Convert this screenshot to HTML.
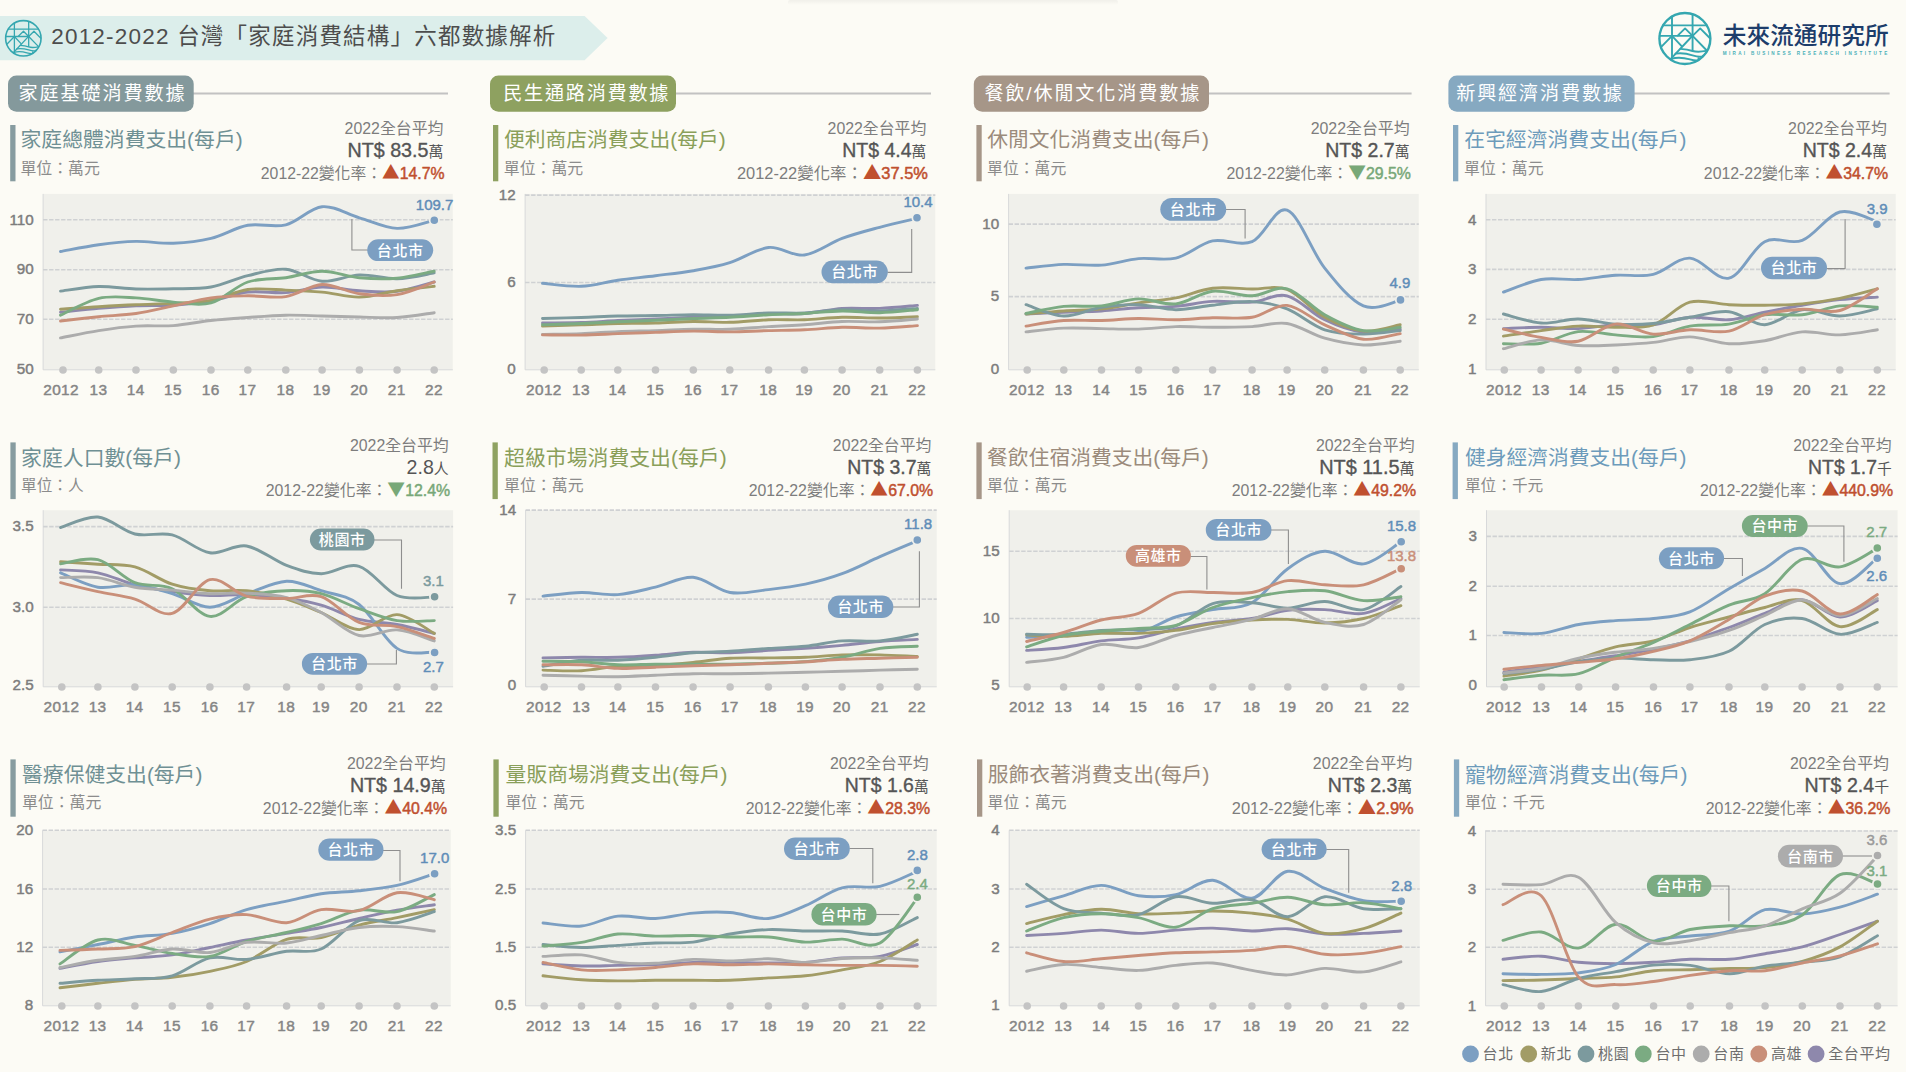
<!DOCTYPE html>
<html lang="zh-Hant"><head><meta charset="utf-8"><title>2012-2022 台灣「家庭消費結構」六都數據解析</title>
<style>
html,body{margin:0;padding:0;background:#fcfbf5;}
body{width:1906px;height:1072px;overflow:hidden;}
svg{display:block;}
svg text{font-family:'Liberation Sans','Noto Sans CJK TC',sans-serif;}
</style></head><body>
<svg width="1906" height="1072" viewBox="0 0 1906 1072">
<rect x="0" y="0" width="1906" height="1072" fill="#fcfbf5"/>
<defs><linearGradient id="tsh" x1="0" y1="0" x2="0" y2="1"><stop offset="0" stop-color="#000" stop-opacity="0.045"/><stop offset="1" stop-color="#000" stop-opacity="0"/></linearGradient></defs>
<rect x="788" y="0" width="330" height="5" rx="2" fill="url(#tsh)"/>
<path d="M0,16H584.6L607.6,38.1L584.6,60.2H0Z" fill="#dceeeb"/>
<g fill="none" stroke="#35a7b0" stroke-width="1.3" stroke-linecap="round" stroke-linejoin="round"><circle cx="23.35" cy="38.3" r="17.7" stroke-width="1.62"/><path d="M14.39,23.08L14.39,52.46"/><path d="M28.68,21.48L28.68,46.44"/><path d="M8.16,29.22L38.54,29.22"/><path d="M5.83,36.51L28.68,36.51"/><path d="M28.68,36.51L38.55,46.62"/><path d="M28.13,36.92L13.56,52.46"/><path d="M14.39,36.51L21.07,43.59"/><path d="M14.39,36.51L7.10,44.00"/><path d="M18.36,36.26L23.47,31.31L28.68,36.51L33.97,31.31L40.61,37.96"/><path d="M20.23,45.47Q25.12,45.91 28.66,46.97T38.13,46.92"/><path d="M16.89,48.80Q22.46,48.03 28.66,49.98T36.09,50.07"/><path d="M13.97,52.34Q19.81,50.87 26.89,52.81T32.73,51.93"/></g>
<text x="51.2" y="44.4" style="white-space:pre" letter-spacing="1.210"><tspan font-weight="400" fill="#4d4d4d" font-size="22.50">2012-2022 台灣「家庭消費結構」六都數據解析</tspan></text>
<g fill="none" stroke="#35a7b0" stroke-width="1.9" stroke-linecap="round" stroke-linejoin="round"><circle cx="1684.9" cy="38.5" r="25.5" stroke-width="2.38"/><path d="M1672.00,16.57L1672.00,58.90"/><path d="M1692.58,14.28L1692.58,50.23"/><path d="M1663.02,25.42L1706.78,25.42"/><path d="M1659.66,35.92L1692.58,35.92"/><path d="M1692.58,35.92L1706.80,50.48"/><path d="M1691.79,36.51L1670.80,58.90"/><path d="M1672.00,35.92L1681.61,46.12"/><path d="M1672.00,35.92L1661.49,46.71"/><path d="M1677.71,35.57L1685.08,28.43L1692.58,35.92L1700.20,28.43L1709.76,38.02"/><path d="M1680.41,48.83Q1687.45,49.47 1692.55,50.99T1706.19,50.92"/><path d="M1675.59,53.62Q1683.62,52.52 1692.55,55.33T1703.26,55.46"/><path d="M1671.38,58.72Q1679.80,56.61 1690.00,59.41T1698.42,58.14"/></g>
<text x="1722.8" y="43.5" font-size="23.70" fill="#1d3d6b" font-weight="500" text-anchor="start">未來流通研究所</text>
<text x="1722.8" y="55" font-size="4.6" fill="#4ab0b8" font-weight="700" letter-spacing="1.55" textLength="166" lengthAdjust="spacing">MIRAI BUSINESS RESEARCH INSTITUTE</text>
<path d="M191.7,93.6H448.0" stroke="#c2c2c2" stroke-width="2"/>
<rect x="8.0" y="75.6" width="185.7" height="36.2" rx="8.5" fill="#84999c"/>
<text x="18.5" y="100.4" style="white-space:pre" letter-spacing="1.914"><tspan font-weight="400" fill="#ffffff" font-size="19.10">家庭基礎消費數據</tspan></text>
<path d="M674.0,93.6H931.0" stroke="#c2c2c2" stroke-width="2"/>
<rect x="490.0" y="75.6" width="186.0" height="36.2" rx="8.5" fill="#8ea160"/>
<text x="503.2" y="100.4" style="white-space:pre" letter-spacing="1.771"><tspan font-weight="400" fill="#ffffff" font-size="19.10">民生通路消費數據</tspan></text>
<path d="M1207.0,93.6H1411.6" stroke="#c2c2c2" stroke-width="2"/>
<rect x="973.8" y="75.6" width="235.2" height="36.2" rx="8.5" fill="#a69688"/>
<text x="984.4" y="100.4" style="white-space:pre" letter-spacing="1.859"><tspan font-weight="400" fill="#ffffff" font-size="19.10">餐飲/休閒文化消費數據</tspan></text>
<path d="M1632.6,93.6H1889.6" stroke="#c2c2c2" stroke-width="2"/>
<rect x="1448.4" y="75.6" width="186.2" height="36.2" rx="8.5" fill="#86a9c1"/>
<text x="1456.2" y="100.4" style="white-space:pre" letter-spacing="1.857"><tspan font-weight="400" fill="#ffffff" font-size="19.10">新興經濟消費數據</tspan></text>
<rect x="10.2" y="125.0" width="5.3" height="56.3" fill="#879ca0"/>
<text x="20.5" y="147.4" style="white-space:pre"><tspan font-weight="400" fill="#6f9094" font-size="20.83">家庭總體消費支出(每戶)</tspan></text>
<text x="20.4" y="174.0" style="white-space:pre"><tspan font-weight="400" fill="#8c8c8c" font-size="15.92">單位：萬元</tspan></text>
<text x="443.4" y="133.8" text-anchor="end" style="white-space:pre"><tspan font-weight="400" fill="#7d7d7d" font-size="15.89">2022全台平均</tspan></text>
<text x="443.4" y="156.7" text-anchor="end" style="white-space:pre"><tspan font-weight="400" fill="#555555" font-size="19.68" stroke="#555555" stroke-width="0.37" stroke-linejoin="round">NT$ 83.5</tspan><tspan font-weight="400" fill="#555555" font-size="14.96">萬</tspan></text>
<text x="444.5" y="178.8" text-anchor="end" style="white-space:pre"><tspan font-weight="400" fill="#7d7d7d" font-size="15.81">2012-22變化率：</tspan><tspan font-weight="400" fill="#c0502f" font-size="17.71" font-family="'Noto Sans CJK TC',sans-serif">▲</tspan><tspan font-weight="400" fill="#c0502f" font-size="15.81" stroke="#c0502f" stroke-width="0.47" stroke-linejoin="round">14.7%</tspan></text>
<rect x="493.0" y="125.0" width="5.3" height="56.3" fill="#8fa262"/>
<text x="503.9" y="147.4" style="white-space:pre"><tspan font-weight="400" fill="#8a9f5a" font-size="20.81">便利商店消費支出(每戶)</tspan></text>
<text x="503.8" y="174.0" style="white-space:pre"><tspan font-weight="400" fill="#8c8c8c" font-size="15.90">單位：萬元</tspan></text>
<text x="926.3" y="133.8" text-anchor="end" style="white-space:pre"><tspan font-weight="400" fill="#7d7d7d" font-size="15.86">2022全台平均</tspan></text>
<text x="926.3" y="156.7" text-anchor="end" style="white-space:pre"><tspan font-weight="400" fill="#555555" font-size="19.48" stroke="#555555" stroke-width="0.37" stroke-linejoin="round">NT$ 4.4</tspan><tspan font-weight="400" fill="#555555" font-size="14.81">萬</tspan></text>
<text x="927.9" y="178.8" text-anchor="end" style="white-space:pre"><tspan font-weight="400" fill="#7d7d7d" font-size="16.43">2012-22變化率：</tspan><tspan font-weight="400" fill="#c0502f" font-size="18.40" font-family="'Noto Sans CJK TC',sans-serif">▲</tspan><tspan font-weight="400" fill="#c0502f" font-size="16.43" stroke="#c0502f" stroke-width="0.49" stroke-linejoin="round">37.5%</tspan></text>
<rect x="976.4" y="125.0" width="5.3" height="56.3" fill="#a69688"/>
<text x="987.2" y="147.4" style="white-space:pre"><tspan font-weight="400" fill="#9b8b7c" font-size="20.81">休閒文化消費支出(每戶)</tspan></text>
<text x="987.1" y="174.0" style="white-space:pre"><tspan font-weight="400" fill="#8c8c8c" font-size="15.84">單位：萬元</tspan></text>
<text x="1409.6" y="133.8" text-anchor="end" style="white-space:pre"><tspan font-weight="400" fill="#7d7d7d" font-size="15.90">2022全台平均</tspan></text>
<text x="1409.6" y="156.7" text-anchor="end" style="white-space:pre"><tspan font-weight="400" fill="#555555" font-size="19.55" stroke="#555555" stroke-width="0.37" stroke-linejoin="round">NT$ 2.7</tspan><tspan font-weight="400" fill="#555555" font-size="14.86">萬</tspan></text>
<text x="1410.9" y="178.8" text-anchor="end" style="white-space:pre"><tspan font-weight="400" fill="#7d7d7d" font-size="15.86">2012-22變化率：</tspan><tspan font-weight="400" fill="#78a878" font-size="17.77" font-family="'Noto Sans CJK TC',sans-serif">▼</tspan><tspan font-weight="400" fill="#78a878" font-size="15.86" stroke="#78a878" stroke-width="0.48" stroke-linejoin="round">29.5%</tspan></text>
<rect x="1453.0" y="125.0" width="5.3" height="56.3" fill="#86a9c1"/>
<text x="1464.2" y="147.4" style="white-space:pre"><tspan font-weight="400" fill="#6d9bbb" font-size="20.84">在宅經濟消費支出(每戶)</tspan></text>
<text x="1464.1" y="174.0" style="white-space:pre"><tspan font-weight="400" fill="#8c8c8c" font-size="15.90">單位：萬元</tspan></text>
<text x="1887.0" y="133.8" text-anchor="end" style="white-space:pre"><tspan font-weight="400" fill="#7d7d7d" font-size="15.90">2022全台平均</tspan></text>
<text x="1887.0" y="156.7" text-anchor="end" style="white-space:pre"><tspan font-weight="400" fill="#555555" font-size="19.55" stroke="#555555" stroke-width="0.37" stroke-linejoin="round">NT$ 2.4</tspan><tspan font-weight="400" fill="#555555" font-size="14.86">萬</tspan></text>
<text x="1888.2" y="178.8" text-anchor="end" style="white-space:pre"><tspan font-weight="400" fill="#7d7d7d" font-size="15.86">2012-22變化率：</tspan><tspan font-weight="400" fill="#c0502f" font-size="17.77" font-family="'Noto Sans CJK TC',sans-serif">▲</tspan><tspan font-weight="400" fill="#c0502f" font-size="15.86" stroke="#c0502f" stroke-width="0.48" stroke-linejoin="round">34.7%</tspan></text>
<rect x="10.4" y="442.4" width="5.3" height="56.7" fill="#879ca0"/>
<text x="21.1" y="464.8" style="white-space:pre"><tspan font-weight="400" fill="#6f9094" font-size="20.85">家庭人口數(每戶)</tspan></text>
<text x="21.0" y="491.4" style="white-space:pre"><tspan font-weight="400" fill="#8c8c8c" font-size="15.65">單位：人</tspan></text>
<text x="448.7" y="450.7" text-anchor="end" style="white-space:pre"><tspan font-weight="400" fill="#7d7d7d" font-size="15.87">2022全台平均</tspan></text>
<text x="448.7" y="473.6" text-anchor="end" style="white-space:pre"><tspan font-weight="400" fill="#555555" font-size="19.58">2.8</tspan><tspan font-weight="400" fill="#555555" font-size="14.88">人</tspan></text>
<text x="450.1" y="495.7" text-anchor="end" style="white-space:pre"><tspan font-weight="400" fill="#7d7d7d" font-size="15.86">2012-22變化率：</tspan><tspan font-weight="400" fill="#78a878" font-size="17.77" font-family="'Noto Sans CJK TC',sans-serif">▼</tspan><tspan font-weight="400" fill="#78a878" font-size="15.86" stroke="#78a878" stroke-width="0.48" stroke-linejoin="round">12.4%</tspan></text>
<rect x="492.5" y="442.4" width="5.3" height="56.7" fill="#8fa262"/>
<text x="504.1" y="464.8" style="white-space:pre"><tspan font-weight="400" fill="#8a9f5a" font-size="20.86">超級市場消費支出(每戶)</tspan></text>
<text x="504.0" y="491.4" style="white-space:pre"><tspan font-weight="400" fill="#8c8c8c" font-size="15.92">單位：萬元</tspan></text>
<text x="931.3" y="450.7" text-anchor="end" style="white-space:pre"><tspan font-weight="400" fill="#7d7d7d" font-size="15.82">2022全台平均</tspan></text>
<text x="931.3" y="473.6" text-anchor="end" style="white-space:pre"><tspan font-weight="400" fill="#555555" font-size="19.48" stroke="#555555" stroke-width="0.37" stroke-linejoin="round">NT$ 3.7</tspan><tspan font-weight="400" fill="#555555" font-size="14.81">萬</tspan></text>
<text x="933.1" y="495.7" text-anchor="end" style="white-space:pre"><tspan font-weight="400" fill="#7d7d7d" font-size="15.86">2012-22變化率：</tspan><tspan font-weight="400" fill="#c0502f" font-size="17.77" font-family="'Noto Sans CJK TC',sans-serif">▲</tspan><tspan font-weight="400" fill="#c0502f" font-size="15.86" stroke="#c0502f" stroke-width="0.48" stroke-linejoin="round">67.0%</tspan></text>
<rect x="976.4" y="442.4" width="5.3" height="56.7" fill="#a69688"/>
<text x="987.1" y="464.8" style="white-space:pre"><tspan font-weight="400" fill="#9b8b7c" font-size="20.78">餐飲住宿消費支出(每戶)</tspan></text>
<text x="987.0" y="491.4" style="white-space:pre"><tspan font-weight="400" fill="#8c8c8c" font-size="15.92">單位：萬元</tspan></text>
<text x="1414.6" y="450.7" text-anchor="end" style="white-space:pre"><tspan font-weight="400" fill="#7d7d7d" font-size="15.87">2022全台平均</tspan></text>
<text x="1414.6" y="473.6" text-anchor="end" style="white-space:pre"><tspan font-weight="400" fill="#555555" font-size="19.90" stroke="#555555" stroke-width="0.38" stroke-linejoin="round">NT$ 11.5</tspan><tspan font-weight="400" fill="#555555" font-size="15.12">萬</tspan></text>
<text x="1416.1" y="495.7" text-anchor="end" style="white-space:pre"><tspan font-weight="400" fill="#7d7d7d" font-size="15.87">2012-22變化率：</tspan><tspan font-weight="400" fill="#c0502f" font-size="17.77" font-family="'Noto Sans CJK TC',sans-serif">▲</tspan><tspan font-weight="400" fill="#c0502f" font-size="15.87" stroke="#c0502f" stroke-width="0.48" stroke-linejoin="round">49.2%</tspan></text>
<rect x="1452.6" y="442.4" width="5.3" height="56.7" fill="#86a9c1"/>
<text x="1465.0" y="464.8" style="white-space:pre"><tspan font-weight="400" fill="#6d9bbb" font-size="20.78">健身經濟消費支出(每戶)</tspan></text>
<text x="1464.9" y="491.4" style="white-space:pre"><tspan font-weight="400" fill="#8c8c8c" font-size="15.68">單位：千元</tspan></text>
<text x="1891.7" y="450.7" text-anchor="end" style="white-space:pre"><tspan font-weight="400" fill="#7d7d7d" font-size="15.82">2022全台平均</tspan></text>
<text x="1891.7" y="473.6" text-anchor="end" style="white-space:pre"><tspan font-weight="400" fill="#555555" font-size="19.36" stroke="#555555" stroke-width="0.37" stroke-linejoin="round">NT$ 1.7</tspan><tspan font-weight="400" fill="#555555" font-size="14.72">千</tspan></text>
<text x="1893.2" y="495.7" text-anchor="end" style="white-space:pre"><tspan font-weight="400" fill="#7d7d7d" font-size="15.86">2012-22變化率：</tspan><tspan font-weight="400" fill="#c0502f" font-size="17.76" font-family="'Noto Sans CJK TC',sans-serif">▲</tspan><tspan font-weight="400" fill="#c0502f" font-size="15.86" stroke="#c0502f" stroke-width="0.48" stroke-linejoin="round">440.9%</tspan></text>
<rect x="10.4" y="759.4" width="5.3" height="57.3" fill="#879ca0"/>
<text x="22.0" y="781.8" style="white-space:pre"><tspan font-weight="400" fill="#6f9094" font-size="20.82">醫療保健支出(每戶)</tspan></text>
<text x="21.9" y="808.4" style="white-space:pre"><tspan font-weight="400" fill="#8c8c8c" font-size="15.92">單位：萬元</tspan></text>
<text x="445.7" y="769.1" text-anchor="end" style="white-space:pre"><tspan font-weight="400" fill="#7d7d7d" font-size="15.87">2022全台平均</tspan></text>
<text x="445.7" y="792.0" text-anchor="end" style="white-space:pre"><tspan font-weight="400" fill="#555555" font-size="19.66" stroke="#555555" stroke-width="0.37" stroke-linejoin="round">NT$ 14.9</tspan><tspan font-weight="400" fill="#555555" font-size="14.94">萬</tspan></text>
<text x="447.2" y="814.1" text-anchor="end" style="white-space:pre"><tspan font-weight="400" fill="#7d7d7d" font-size="15.87">2012-22變化率：</tspan><tspan font-weight="400" fill="#c0502f" font-size="17.77" font-family="'Noto Sans CJK TC',sans-serif">▲</tspan><tspan font-weight="400" fill="#c0502f" font-size="15.87" stroke="#c0502f" stroke-width="0.48" stroke-linejoin="round">40.4%</tspan></text>
<rect x="493.4" y="759.4" width="5.3" height="57.3" fill="#8fa262"/>
<text x="505.6" y="781.8" style="white-space:pre"><tspan font-weight="400" fill="#8a9f5a" font-size="20.80">量販商場消費支出(每戶)</tspan></text>
<text x="505.5" y="808.4" style="white-space:pre"><tspan font-weight="400" fill="#8c8c8c" font-size="15.80">單位：萬元</tspan></text>
<text x="928.7" y="769.1" text-anchor="end" style="white-space:pre"><tspan font-weight="400" fill="#7d7d7d" font-size="15.87">2022全台平均</tspan></text>
<text x="928.7" y="792.0" text-anchor="end" style="white-space:pre"><tspan font-weight="400" fill="#555555" font-size="19.43" stroke="#555555" stroke-width="0.37" stroke-linejoin="round">NT$ 1.6</tspan><tspan font-weight="400" fill="#555555" font-size="14.77">萬</tspan></text>
<text x="930.1" y="814.1" text-anchor="end" style="white-space:pre"><tspan font-weight="400" fill="#7d7d7d" font-size="15.86">2012-22變化率：</tspan><tspan font-weight="400" fill="#c0502f" font-size="17.77" font-family="'Noto Sans CJK TC',sans-serif">▲</tspan><tspan font-weight="400" fill="#c0502f" font-size="15.86" stroke="#c0502f" stroke-width="0.48" stroke-linejoin="round">28.3%</tspan></text>
<rect x="977.0" y="759.4" width="5.3" height="57.3" fill="#a69688"/>
<text x="987.7" y="781.8" style="white-space:pre"><tspan font-weight="400" fill="#9b8b7c" font-size="20.80">服飾衣著消費支出(每戶)</tspan></text>
<text x="987.6" y="808.4" style="white-space:pre"><tspan font-weight="400" fill="#8c8c8c" font-size="15.80">單位：萬元</tspan></text>
<text x="1412.2" y="769.1" text-anchor="end" style="white-space:pre"><tspan font-weight="400" fill="#7d7d7d" font-size="15.97">2022全台平均</tspan></text>
<text x="1412.2" y="792.0" text-anchor="end" style="white-space:pre"><tspan font-weight="400" fill="#555555" font-size="19.55" stroke="#555555" stroke-width="0.37" stroke-linejoin="round">NT$ 2.3</tspan><tspan font-weight="400" fill="#555555" font-size="14.86">萬</tspan></text>
<text x="1413.7" y="814.1" text-anchor="end" style="white-space:pre"><tspan font-weight="400" fill="#7d7d7d" font-size="16.45">2012-22變化率：</tspan><tspan font-weight="400" fill="#c0502f" font-size="18.42" font-family="'Noto Sans CJK TC',sans-serif">▲</tspan><tspan font-weight="400" fill="#c0502f" font-size="16.45" stroke="#c0502f" stroke-width="0.49" stroke-linejoin="round">2.9%</tspan></text>
<rect x="1453.9" y="759.4" width="5.3" height="57.3" fill="#86a9c1"/>
<text x="1465.0" y="781.8" style="white-space:pre"><tspan font-weight="400" fill="#6d9bbb" font-size="20.85">寵物經濟消費支出(每戶)</tspan></text>
<text x="1464.9" y="808.4" style="white-space:pre"><tspan font-weight="400" fill="#8c8c8c" font-size="15.94">單位：千元</tspan></text>
<text x="1889.0" y="769.1" text-anchor="end" style="white-space:pre"><tspan font-weight="400" fill="#7d7d7d" font-size="15.92">2022全台平均</tspan></text>
<text x="1889.0" y="792.0" text-anchor="end" style="white-space:pre"><tspan font-weight="400" fill="#555555" font-size="19.60" stroke="#555555" stroke-width="0.37" stroke-linejoin="round">NT$ 2.4</tspan><tspan font-weight="400" fill="#555555" font-size="14.89">千</tspan></text>
<text x="1890.5" y="814.1" text-anchor="end" style="white-space:pre"><tspan font-weight="400" fill="#7d7d7d" font-size="15.90">2012-22變化率：</tspan><tspan font-weight="400" fill="#c0502f" font-size="17.80" font-family="'Noto Sans CJK TC',sans-serif">▲</tspan><tspan font-weight="400" fill="#c0502f" font-size="15.90" stroke="#c0502f" stroke-width="0.48" stroke-linejoin="round">36.2%</tspan></text>
<rect x="43.1" y="193.9" width="409.7" height="175.9" fill="#f0f0eb"/>
<path d="M43.1,193.9V369.8H452.8" fill="none" stroke="#d8d9da" stroke-width="1"/>
<path d="M43.1,219.8H452.8" stroke="#cfd1d3" stroke-width="1.6" stroke-dasharray="4.4,1.6" fill="none"/>
<text x="33.6" y="224.5" font-size="15.20" fill="#7d7d7d" font-weight="400" text-anchor="end" stroke="#7d7d7d" stroke-width="0.46" stroke-linejoin="round">110</text>
<path d="M43.1,269.7H452.8" stroke="#cfd1d3" stroke-width="1.6" stroke-dasharray="4.4,1.6" fill="none"/>
<text x="33.6" y="274.4" font-size="15.20" fill="#7d7d7d" font-weight="400" text-anchor="end" stroke="#7d7d7d" stroke-width="0.46" stroke-linejoin="round">90</text>
<path d="M43.1,319.3H452.8" stroke="#cfd1d3" stroke-width="1.6" stroke-dasharray="4.4,1.6" fill="none"/>
<text x="33.6" y="324.0" font-size="15.20" fill="#7d7d7d" font-weight="400" text-anchor="end" stroke="#7d7d7d" stroke-width="0.46" stroke-linejoin="round">70</text>
<text x="33.6" y="373.6" font-size="15.20" fill="#7d7d7d" font-weight="400" text-anchor="end" stroke="#7d7d7d" stroke-width="0.46" stroke-linejoin="round">50</text>
<circle cx="63.0" cy="370.0" r="3.8" fill="#c4c4c4"/>
<text x="61.1" y="394.7" font-size="15.40" fill="#858585" font-weight="400" text-anchor="middle" letter-spacing="0.4" stroke="#858585" stroke-width="0.46" stroke-linejoin="round">2012</text>
<circle cx="98.7" cy="370.0" r="3.8" fill="#c4c4c4"/>
<text x="98.4" y="394.7" font-size="15.40" fill="#858585" font-weight="400" text-anchor="middle" letter-spacing="0.4" stroke="#858585" stroke-width="0.46" stroke-linejoin="round">13</text>
<circle cx="136.0" cy="370.0" r="3.8" fill="#c4c4c4"/>
<text x="135.7" y="394.7" font-size="15.40" fill="#858585" font-weight="400" text-anchor="middle" letter-spacing="0.4" stroke="#858585" stroke-width="0.46" stroke-linejoin="round">14</text>
<circle cx="173.3" cy="370.0" r="3.8" fill="#c4c4c4"/>
<text x="173.0" y="394.7" font-size="15.40" fill="#858585" font-weight="400" text-anchor="middle" letter-spacing="0.4" stroke="#858585" stroke-width="0.46" stroke-linejoin="round">15</text>
<circle cx="211.0" cy="370.0" r="3.8" fill="#c4c4c4"/>
<text x="210.7" y="394.7" font-size="15.40" fill="#858585" font-weight="400" text-anchor="middle" letter-spacing="0.4" stroke="#858585" stroke-width="0.46" stroke-linejoin="round">16</text>
<circle cx="247.8" cy="370.0" r="3.8" fill="#c4c4c4"/>
<text x="247.5" y="394.7" font-size="15.40" fill="#858585" font-weight="400" text-anchor="middle" letter-spacing="0.4" stroke="#858585" stroke-width="0.46" stroke-linejoin="round">17</text>
<circle cx="285.8" cy="370.0" r="3.8" fill="#c4c4c4"/>
<text x="285.5" y="394.7" font-size="15.40" fill="#858585" font-weight="400" text-anchor="middle" letter-spacing="0.4" stroke="#858585" stroke-width="0.46" stroke-linejoin="round">18</text>
<circle cx="322.1" cy="370.0" r="3.8" fill="#c4c4c4"/>
<text x="321.8" y="394.7" font-size="15.40" fill="#858585" font-weight="400" text-anchor="middle" letter-spacing="0.4" stroke="#858585" stroke-width="0.46" stroke-linejoin="round">19</text>
<circle cx="359.4" cy="370.0" r="3.8" fill="#c4c4c4"/>
<text x="359.1" y="394.7" font-size="15.40" fill="#858585" font-weight="400" text-anchor="middle" letter-spacing="0.4" stroke="#858585" stroke-width="0.46" stroke-linejoin="round">20</text>
<circle cx="397.1" cy="370.0" r="3.8" fill="#c4c4c4"/>
<text x="396.8" y="394.7" font-size="15.40" fill="#858585" font-weight="400" text-anchor="middle" letter-spacing="0.4" stroke="#858585" stroke-width="0.46" stroke-linejoin="round">21</text>
<circle cx="434.2" cy="370.0" r="3.8" fill="#c4c4c4"/>
<text x="433.9" y="394.7" font-size="15.40" fill="#858585" font-weight="400" text-anchor="middle" letter-spacing="0.4" stroke="#858585" stroke-width="0.46" stroke-linejoin="round">22</text>
<path d="M60.5,312.2C66.9,311.6 86.1,309.5 98.7,308.4C111.3,307.4 123.6,306.5 136.0,305.9C148.4,305.4 160.8,306.0 173.3,305.2C185.8,304.3 198.6,303.1 211.0,300.9C223.5,298.7 235.3,293.5 247.8,292.1C260.3,290.7 273.5,293.4 285.8,292.6C298.2,291.7 309.8,287.3 322.1,287.0C334.4,286.7 346.9,290.1 359.4,290.8C371.9,291.5 384.7,292.8 397.1,291.3C409.6,289.8 428.0,283.5 434.2,282.0" fill="none" stroke="#8e88ac" stroke-width="2.9" stroke-linecap="round" stroke-linejoin="round"/>
<path d="M60.5,251.5C66.9,250.4 86.1,246.4 98.7,244.7C111.3,243.0 123.6,241.7 136.0,241.4C148.4,241.2 160.8,243.7 173.3,243.2C185.8,242.7 198.6,241.4 211.0,238.4C223.5,235.4 235.3,227.6 247.8,225.3C260.3,223.1 273.5,227.9 285.8,224.8C298.2,221.7 309.8,207.9 322.1,206.7C334.4,205.5 346.9,214.2 359.4,217.8C371.9,221.4 384.7,227.9 397.1,228.4C409.6,228.8 428.0,221.6 434.2,220.3" fill="none" stroke="#7c9fc2" stroke-width="2.9" stroke-linecap="round" stroke-linejoin="round"/>
<path d="M60.5,309.2C66.9,308.8 86.1,307.4 98.7,306.7C111.3,305.9 123.6,305.2 136.0,304.7C148.4,304.1 160.8,304.1 173.3,303.4C185.8,302.7 198.6,302.7 211.0,300.4C223.5,298.1 235.3,291.3 247.8,289.5C260.3,287.8 273.5,289.6 285.8,290.1C298.2,290.5 309.8,290.9 322.1,292.1C334.4,293.2 346.9,297.3 359.4,297.1C371.9,296.9 384.7,292.6 397.1,290.8C409.6,289.0 428.0,287.0 434.2,286.3" fill="none" stroke="#a29c66" stroke-width="2.9" stroke-linecap="round" stroke-linejoin="round"/>
<path d="M60.5,291.1C66.9,290.3 86.1,286.9 98.7,286.5C111.3,286.2 123.6,288.7 136.0,289.0C148.4,289.4 160.8,289.1 173.3,288.8C185.8,288.5 198.6,289.2 211.0,287.0C223.5,284.8 235.3,278.7 247.8,275.7C260.3,272.7 273.5,268.2 285.8,269.2C298.2,270.1 309.8,280.3 322.1,281.2C334.4,282.2 346.9,275.4 359.4,274.9C371.9,274.5 384.7,279.1 397.1,278.7C409.6,278.4 428.0,273.9 434.2,272.9" fill="none" stroke="#7c9a9e" stroke-width="2.9" stroke-linecap="round" stroke-linejoin="round"/>
<path d="M60.5,315.2C66.9,312.4 86.1,301.3 98.7,298.4C111.3,295.5 123.6,297.2 136.0,297.9C148.4,298.5 160.8,301.3 173.3,302.1C185.8,303.0 198.6,306.3 211.0,302.9C223.5,299.5 235.3,286.2 247.8,282.0C260.3,277.8 273.5,279.5 285.8,277.7C298.2,275.9 309.8,271.2 322.1,271.2C334.4,271.2 346.9,276.5 359.4,277.7C371.9,278.9 384.7,279.3 397.1,278.2C409.6,277.1 428.0,272.3 434.2,271.2" fill="none" stroke="#7bab82" stroke-width="2.9" stroke-linecap="round" stroke-linejoin="round"/>
<path d="M60.5,337.9C66.9,336.7 86.1,332.6 98.7,330.6C111.3,328.6 123.6,326.9 136.0,326.1C148.4,325.2 160.8,326.5 173.3,325.6C185.8,324.6 198.6,321.9 211.0,320.5C223.5,319.2 235.3,318.4 247.8,317.5C260.3,316.6 273.5,315.5 285.8,315.2C298.2,315.0 309.8,315.7 322.1,316.0C334.4,316.3 346.9,316.7 359.4,317.0C371.9,317.3 384.7,318.2 397.1,317.5C409.6,316.8 428.0,313.5 434.2,312.7" fill="none" stroke="#acacac" stroke-width="2.9" stroke-linecap="round" stroke-linejoin="round"/>
<path d="M60.5,321.0C66.9,320.3 86.1,318.0 98.7,316.7C111.3,315.5 123.6,315.3 136.0,313.5C148.4,311.7 160.8,308.5 173.3,305.9C185.8,303.3 198.6,299.5 211.0,297.9C223.5,296.2 235.3,296.1 247.8,295.8C260.3,295.6 273.5,298.5 285.8,296.6C298.2,294.7 309.8,285.0 322.1,284.5C334.4,284.1 346.9,292.2 359.4,293.8C371.9,295.5 384.7,296.6 397.1,294.6C409.6,292.6 428.0,284.1 434.2,282.0" fill="none" stroke="#c98f79" stroke-width="2.9" stroke-linecap="round" stroke-linejoin="round"/>
<path d="M367.7,250.0L351.9,250.0L351.9,219.0" fill="none" stroke="#8e8e8e" stroke-width="1.1"/>
<rect x="367.2" y="239.2" width="66.0" height="21.9" rx="11.0" fill="#7c9fc2"/>
<text x="400.2" y="255.6" font-size="15.00" fill="#ffffff" font-weight="500" text-anchor="middle" letter-spacing="0.6">台北市</text>
<circle cx="434.3" cy="220.3" r="4.7" fill="#7c9fc2" stroke="#f0f0eb" stroke-width="1.8"/>
<text x="453.4" y="210.2" font-size="15.00" fill="#5f8db8" font-weight="400" text-anchor="end" stroke="#5f8db8" stroke-width="0.45" stroke-linejoin="round">109.7</text>
<rect x="525.1" y="193.9" width="410.2" height="175.9" fill="#f0f0eb"/>
<path d="M525.1,193.9V369.8H935.3" fill="none" stroke="#d8d9da" stroke-width="1"/>
<path d="M525.1,195.1H935.3" stroke="#cfd1d3" stroke-width="1.6" stroke-dasharray="4.4,1.6" fill="none"/>
<text x="515.6" y="199.8" font-size="15.20" fill="#7d7d7d" font-weight="400" text-anchor="end" stroke="#7d7d7d" stroke-width="0.46" stroke-linejoin="round">12</text>
<path d="M525.1,282.5H935.3" stroke="#cfd1d3" stroke-width="1.6" stroke-dasharray="4.4,1.6" fill="none"/>
<text x="515.6" y="287.2" font-size="15.20" fill="#7d7d7d" font-weight="400" text-anchor="end" stroke="#7d7d7d" stroke-width="0.46" stroke-linejoin="round">6</text>
<text x="515.6" y="373.6" font-size="15.20" fill="#7d7d7d" font-weight="400" text-anchor="end" stroke="#7d7d7d" stroke-width="0.46" stroke-linejoin="round">0</text>
<circle cx="544.2" cy="370.0" r="3.8" fill="#c4c4c4"/>
<text x="543.9" y="394.7" font-size="15.40" fill="#858585" font-weight="400" text-anchor="middle" letter-spacing="0.4" stroke="#858585" stroke-width="0.46" stroke-linejoin="round">2012</text>
<circle cx="581.2" cy="370.0" r="3.8" fill="#c4c4c4"/>
<text x="580.9" y="394.7" font-size="15.40" fill="#858585" font-weight="400" text-anchor="middle" letter-spacing="0.4" stroke="#858585" stroke-width="0.46" stroke-linejoin="round">13</text>
<circle cx="617.8" cy="370.0" r="3.8" fill="#c4c4c4"/>
<text x="617.5" y="394.7" font-size="15.40" fill="#858585" font-weight="400" text-anchor="middle" letter-spacing="0.4" stroke="#858585" stroke-width="0.46" stroke-linejoin="round">14</text>
<circle cx="655.5" cy="370.0" r="3.8" fill="#c4c4c4"/>
<text x="655.2" y="394.7" font-size="15.40" fill="#858585" font-weight="400" text-anchor="middle" letter-spacing="0.4" stroke="#858585" stroke-width="0.46" stroke-linejoin="round">15</text>
<circle cx="693.3" cy="370.0" r="3.8" fill="#c4c4c4"/>
<text x="693.0" y="394.7" font-size="15.40" fill="#858585" font-weight="400" text-anchor="middle" letter-spacing="0.4" stroke="#858585" stroke-width="0.46" stroke-linejoin="round">16</text>
<circle cx="729.8" cy="370.0" r="3.8" fill="#c4c4c4"/>
<text x="729.5" y="394.7" font-size="15.40" fill="#858585" font-weight="400" text-anchor="middle" letter-spacing="0.4" stroke="#858585" stroke-width="0.46" stroke-linejoin="round">17</text>
<circle cx="768.6" cy="370.0" r="3.8" fill="#c4c4c4"/>
<text x="768.3" y="394.7" font-size="15.40" fill="#858585" font-weight="400" text-anchor="middle" letter-spacing="0.4" stroke="#858585" stroke-width="0.46" stroke-linejoin="round">18</text>
<circle cx="804.4" cy="370.0" r="3.8" fill="#c4c4c4"/>
<text x="804.1" y="394.7" font-size="15.40" fill="#858585" font-weight="400" text-anchor="middle" letter-spacing="0.4" stroke="#858585" stroke-width="0.46" stroke-linejoin="round">19</text>
<circle cx="842.1" cy="370.0" r="3.8" fill="#c4c4c4"/>
<text x="841.8" y="394.7" font-size="15.40" fill="#858585" font-weight="400" text-anchor="middle" letter-spacing="0.4" stroke="#858585" stroke-width="0.46" stroke-linejoin="round">20</text>
<circle cx="879.7" cy="370.0" r="3.8" fill="#c4c4c4"/>
<text x="879.4" y="394.7" font-size="15.40" fill="#858585" font-weight="400" text-anchor="middle" letter-spacing="0.4" stroke="#858585" stroke-width="0.46" stroke-linejoin="round">21</text>
<circle cx="917.4" cy="370.0" r="3.8" fill="#c4c4c4"/>
<text x="917.1" y="394.7" font-size="15.40" fill="#858585" font-weight="400" text-anchor="middle" letter-spacing="0.4" stroke="#858585" stroke-width="0.46" stroke-linejoin="round">22</text>
<path d="M542.5,323.0C549.0,323.0 568.7,323.0 581.2,322.5C593.8,322.1 605.4,321.1 617.8,320.5C630.1,319.9 642.9,319.6 655.5,319.0C668.1,318.5 680.9,317.8 693.3,317.3C705.7,316.7 717.3,316.5 729.8,316.0C742.4,315.4 756.2,314.4 768.6,314.0C781.0,313.6 792.1,314.4 804.4,313.5C816.6,312.5 829.6,309.3 842.1,308.4C854.7,307.6 867.1,308.9 879.7,308.4C892.2,307.9 911.1,305.9 917.4,305.4" fill="none" stroke="#8e88ac" stroke-width="2.9" stroke-linecap="round" stroke-linejoin="round"/>
<path d="M542.5,283.3C549.0,283.8 568.7,286.8 581.2,286.3C593.8,285.8 605.4,282.0 617.8,280.2C630.1,278.5 642.9,277.3 655.5,275.7C668.1,274.1 680.9,272.8 693.3,270.7C705.7,268.5 717.3,266.5 729.8,262.6C742.4,258.7 756.2,248.8 768.6,247.5C781.0,246.2 792.1,256.6 804.4,255.0C816.6,253.5 829.6,243.0 842.1,238.4C854.7,233.8 867.1,230.7 879.7,227.3C892.2,224.0 911.1,219.8 917.4,218.3" fill="none" stroke="#7c9fc2" stroke-width="2.9" stroke-linecap="round" stroke-linejoin="round"/>
<path d="M542.5,326.1C549.0,325.9 568.7,325.2 581.2,324.8C593.8,324.4 605.4,323.8 617.8,323.5C630.1,323.3 642.9,323.4 655.5,323.0C668.1,322.7 680.9,321.7 693.3,321.5C705.7,321.4 717.3,322.6 729.8,322.3C742.4,322.0 756.2,320.2 768.6,319.8C781.0,319.3 792.1,320.2 804.4,319.8C816.6,319.3 829.6,317.5 842.1,317.3C854.7,317.0 867.1,318.1 879.7,318.0C892.2,317.9 911.1,317.0 917.4,316.7" fill="none" stroke="#a29c66" stroke-width="2.9" stroke-linecap="round" stroke-linejoin="round"/>
<path d="M542.5,318.5C549.0,318.3 568.7,317.9 581.2,317.5C593.8,317.1 605.4,316.3 617.8,316.0C630.1,315.7 642.9,315.7 655.5,315.5C668.1,315.3 680.9,314.8 693.3,314.7C705.7,314.7 717.3,315.5 729.8,315.2C742.4,314.9 756.2,313.3 768.6,313.0C781.0,312.6 792.1,313.5 804.4,313.0C816.6,312.4 829.6,310.0 842.1,309.7C854.7,309.4 867.1,311.2 879.7,311.0C892.2,310.7 911.1,308.9 917.4,308.4" fill="none" stroke="#7c9a9e" stroke-width="2.9" stroke-linecap="round" stroke-linejoin="round"/>
<path d="M542.5,324.8C549.0,324.6 568.7,324.1 581.2,323.5C593.8,323.0 605.4,322.3 617.8,321.8C630.1,321.2 642.9,320.8 655.5,320.3C668.1,319.7 680.9,319.0 693.3,318.5C705.7,318.0 717.3,317.9 729.8,317.3C742.4,316.6 756.2,315.4 768.6,314.7C781.0,314.1 792.1,314.1 804.4,313.5C816.6,312.8 829.6,311.1 842.1,311.0C854.7,310.8 867.1,312.9 879.7,312.7C892.2,312.5 911.1,310.2 917.4,309.7" fill="none" stroke="#7bab82" stroke-width="2.9" stroke-linecap="round" stroke-linejoin="round"/>
<path d="M542.5,334.4C549.0,334.2 568.7,334.1 581.2,333.6C593.8,333.2 605.4,332.1 617.8,331.6C630.1,331.1 642.9,331.0 655.5,330.6C668.1,330.2 680.9,329.3 693.3,329.1C705.7,328.9 717.3,329.8 729.8,329.3C742.4,328.9 756.2,327.3 768.6,326.6C781.0,325.8 792.1,325.6 804.4,324.8C816.6,324.0 829.6,322.0 842.1,321.5C854.7,321.0 867.1,322.2 879.7,321.8C892.2,321.4 911.1,319.5 917.4,319.0" fill="none" stroke="#acacac" stroke-width="2.9" stroke-linecap="round" stroke-linejoin="round"/>
<path d="M542.5,334.9C549.0,334.9 568.7,335.3 581.2,335.1C593.8,334.9 605.4,334.1 617.8,333.6C630.1,333.2 642.9,332.8 655.5,332.4C668.1,331.9 680.9,331.2 693.3,331.1C705.7,331.0 717.3,331.9 729.8,331.9C742.4,331.8 756.2,330.9 768.6,330.6C781.0,330.3 792.1,330.4 804.4,329.8C816.6,329.3 829.6,327.6 842.1,327.3C854.7,327.0 867.1,328.4 879.7,328.1C892.2,327.8 911.1,326.0 917.4,325.6" fill="none" stroke="#c98f79" stroke-width="2.9" stroke-linecap="round" stroke-linejoin="round"/>
<path d="M887.3,272.4L911.7,272.4L911.7,229.0" fill="none" stroke="#8e8e8e" stroke-width="1.1"/>
<rect x="821.5" y="260.6" width="66.3" height="22.7" rx="11.3" fill="#7c9fc2"/>
<text x="854.6" y="277.4" font-size="15.00" fill="#ffffff" font-weight="500" text-anchor="middle" letter-spacing="0.6">台北市</text>
<circle cx="917.0" cy="217.8" r="4.7" fill="#7c9fc2" stroke="#f0f0eb" stroke-width="1.8"/>
<text x="932.6" y="207.2" font-size="15.00" fill="#5f8db8" font-weight="400" text-anchor="end" stroke="#5f8db8" stroke-width="0.45" stroke-linejoin="round">10.4</text>
<rect x="1008.6" y="193.9" width="410.2" height="175.9" fill="#f0f0eb"/>
<path d="M1008.6,193.9V369.8H1418.8" fill="none" stroke="#d8d9da" stroke-width="1"/>
<path d="M1008.6,224.1H1418.8" stroke="#cfd1d3" stroke-width="1.6" stroke-dasharray="4.4,1.6" fill="none"/>
<text x="999.1" y="228.8" font-size="15.20" fill="#7d7d7d" font-weight="400" text-anchor="end" stroke="#7d7d7d" stroke-width="0.46" stroke-linejoin="round">10</text>
<path d="M1008.6,296.6H1418.8" stroke="#cfd1d3" stroke-width="1.6" stroke-dasharray="4.4,1.6" fill="none"/>
<text x="999.1" y="301.3" font-size="15.20" fill="#7d7d7d" font-weight="400" text-anchor="end" stroke="#7d7d7d" stroke-width="0.46" stroke-linejoin="round">5</text>
<text x="999.1" y="373.6" font-size="15.20" fill="#7d7d7d" font-weight="400" text-anchor="end" stroke="#7d7d7d" stroke-width="0.46" stroke-linejoin="round">0</text>
<circle cx="1027.2" cy="370.0" r="3.8" fill="#c4c4c4"/>
<text x="1026.9" y="394.7" font-size="15.40" fill="#858585" font-weight="400" text-anchor="middle" letter-spacing="0.4" stroke="#858585" stroke-width="0.46" stroke-linejoin="round">2012</text>
<circle cx="1063.8" cy="370.0" r="3.8" fill="#c4c4c4"/>
<text x="1063.5" y="394.7" font-size="15.40" fill="#858585" font-weight="400" text-anchor="middle" letter-spacing="0.4" stroke="#858585" stroke-width="0.46" stroke-linejoin="round">13</text>
<circle cx="1101.5" cy="370.0" r="3.8" fill="#c4c4c4"/>
<text x="1101.2" y="394.7" font-size="15.40" fill="#858585" font-weight="400" text-anchor="middle" letter-spacing="0.4" stroke="#858585" stroke-width="0.46" stroke-linejoin="round">14</text>
<circle cx="1138.6" cy="370.0" r="3.8" fill="#c4c4c4"/>
<text x="1138.3" y="394.7" font-size="15.40" fill="#858585" font-weight="400" text-anchor="middle" letter-spacing="0.4" stroke="#858585" stroke-width="0.46" stroke-linejoin="round">15</text>
<circle cx="1175.8" cy="370.0" r="3.8" fill="#c4c4c4"/>
<text x="1175.5" y="394.7" font-size="15.40" fill="#858585" font-weight="400" text-anchor="middle" letter-spacing="0.4" stroke="#858585" stroke-width="0.46" stroke-linejoin="round">16</text>
<circle cx="1212.6" cy="370.0" r="3.8" fill="#c4c4c4"/>
<text x="1212.3" y="394.7" font-size="15.40" fill="#858585" font-weight="400" text-anchor="middle" letter-spacing="0.4" stroke="#858585" stroke-width="0.46" stroke-linejoin="round">17</text>
<circle cx="1252.1" cy="370.0" r="3.8" fill="#c4c4c4"/>
<text x="1251.8" y="394.7" font-size="15.40" fill="#858585" font-weight="400" text-anchor="middle" letter-spacing="0.4" stroke="#858585" stroke-width="0.46" stroke-linejoin="round">18</text>
<circle cx="1287.1" cy="370.0" r="3.8" fill="#c4c4c4"/>
<text x="1286.8" y="394.7" font-size="15.40" fill="#858585" font-weight="400" text-anchor="middle" letter-spacing="0.4" stroke="#858585" stroke-width="0.46" stroke-linejoin="round">19</text>
<circle cx="1324.7" cy="370.0" r="3.8" fill="#c4c4c4"/>
<text x="1324.4" y="394.7" font-size="15.40" fill="#858585" font-weight="400" text-anchor="middle" letter-spacing="0.4" stroke="#858585" stroke-width="0.46" stroke-linejoin="round">20</text>
<circle cx="1363.4" cy="370.0" r="3.8" fill="#c4c4c4"/>
<text x="1363.1" y="394.7" font-size="15.40" fill="#858585" font-weight="400" text-anchor="middle" letter-spacing="0.4" stroke="#858585" stroke-width="0.46" stroke-linejoin="round">21</text>
<circle cx="1400.2" cy="370.0" r="3.8" fill="#c4c4c4"/>
<text x="1399.9" y="394.7" font-size="15.40" fill="#858585" font-weight="400" text-anchor="middle" letter-spacing="0.4" stroke="#858585" stroke-width="0.46" stroke-linejoin="round">22</text>
<path d="M1026.0,314.0C1032.3,313.7 1051.2,312.7 1063.8,312.2C1076.3,311.7 1089.1,311.7 1101.5,311.0C1114.0,310.2 1126.2,308.4 1138.6,307.7C1150.9,306.9 1163.5,307.5 1175.8,306.4C1188.2,305.4 1199.9,302.1 1212.6,301.4C1225.3,300.7 1239.7,303.1 1252.1,302.1C1264.6,301.2 1275.0,292.9 1287.1,295.8C1299.2,298.8 1311.9,313.7 1324.7,319.8C1337.4,325.9 1350.8,330.8 1363.4,332.4C1376.0,334.0 1394.1,329.8 1400.2,329.3" fill="none" stroke="#8e88ac" stroke-width="2.9" stroke-linecap="round" stroke-linejoin="round"/>
<path d="M1026.0,268.1C1032.3,267.5 1051.2,264.9 1063.8,264.4C1076.3,263.9 1089.1,266.1 1101.5,265.1C1114.0,264.2 1126.2,259.7 1138.6,258.6C1150.9,257.4 1163.5,261.0 1175.8,258.1C1188.2,255.1 1199.9,243.7 1212.6,240.9C1225.3,238.2 1239.7,246.8 1252.1,241.7C1264.6,236.6 1275.0,205.8 1287.1,210.2C1299.2,214.6 1311.9,252.2 1324.7,268.1C1337.4,284.1 1350.8,300.5 1363.4,305.9C1376.0,311.3 1394.1,301.3 1400.2,300.4" fill="none" stroke="#7c9fc2" stroke-width="2.9" stroke-linecap="round" stroke-linejoin="round"/>
<path d="M1026.0,314.0C1032.3,313.5 1051.2,311.8 1063.8,311.0C1076.3,310.1 1089.1,310.3 1101.5,308.9C1114.0,307.6 1126.2,304.7 1138.6,302.9C1150.9,301.0 1163.5,300.3 1175.8,297.9C1188.2,295.4 1199.9,289.8 1212.6,288.3C1225.3,286.8 1239.7,288.8 1252.1,289.0C1264.6,289.3 1275.0,284.8 1287.1,289.5C1299.2,294.2 1311.9,310.3 1324.7,317.3C1337.4,324.2 1350.8,329.8 1363.4,331.1C1376.0,332.4 1394.1,325.9 1400.2,324.8" fill="none" stroke="#a29c66" stroke-width="2.9" stroke-linecap="round" stroke-linejoin="round"/>
<path d="M1026.0,304.7C1032.3,306.5 1051.2,315.6 1063.8,316.0C1076.3,316.4 1089.1,309.1 1101.5,307.2C1114.0,305.3 1126.2,304.2 1138.6,304.7C1150.9,305.1 1163.5,309.6 1175.8,309.7C1188.2,309.8 1199.9,306.5 1212.6,305.2C1225.3,303.8 1239.7,301.0 1252.1,301.6C1264.6,302.3 1275.0,304.2 1287.1,308.9C1299.2,313.6 1311.9,325.6 1324.7,329.8C1337.4,334.0 1350.8,334.0 1363.4,334.1C1376.0,334.2 1394.1,331.2 1400.2,330.6" fill="none" stroke="#7c9a9e" stroke-width="2.9" stroke-linecap="round" stroke-linejoin="round"/>
<path d="M1026.0,313.5C1032.3,312.3 1051.2,307.7 1063.8,306.4C1076.3,305.2 1089.1,307.2 1101.5,305.9C1114.0,304.7 1126.2,299.2 1138.6,298.9C1150.9,298.5 1163.5,305.2 1175.8,303.9C1188.2,302.6 1199.9,292.7 1212.6,291.3C1225.3,290.0 1239.7,296.3 1252.1,295.8C1264.6,295.4 1275.0,285.6 1287.1,288.8C1299.2,291.9 1311.9,307.8 1324.7,314.7C1337.4,321.7 1350.8,328.5 1363.4,330.6C1376.0,332.7 1394.1,327.9 1400.2,327.3" fill="none" stroke="#7bab82" stroke-width="2.9" stroke-linecap="round" stroke-linejoin="round"/>
<path d="M1026.0,331.9C1032.3,331.2 1051.2,328.6 1063.8,328.1C1076.3,327.5 1089.1,328.4 1101.5,328.6C1114.0,328.8 1126.2,329.4 1138.6,329.1C1150.9,328.8 1163.5,326.9 1175.8,326.6C1188.2,326.3 1199.9,327.3 1212.6,327.3C1225.3,327.3 1239.7,327.2 1252.1,326.6C1264.6,325.9 1275.0,321.6 1287.1,323.5C1299.2,325.5 1311.9,334.6 1324.7,338.2C1337.4,341.7 1350.8,344.4 1363.4,345.0C1376.0,345.5 1394.1,341.8 1400.2,341.2" fill="none" stroke="#acacac" stroke-width="2.9" stroke-linecap="round" stroke-linejoin="round"/>
<path d="M1026.0,326.1C1032.3,325.1 1051.2,321.4 1063.8,320.5C1076.3,319.6 1089.1,320.9 1101.5,320.5C1114.0,320.2 1126.2,318.6 1138.6,318.5C1150.9,318.4 1163.5,319.9 1175.8,319.8C1188.2,319.6 1199.9,318.2 1212.6,317.8C1225.3,317.3 1239.7,319.3 1252.1,317.3C1264.6,315.2 1275.0,304.2 1287.1,305.4C1299.2,306.7 1311.9,319.2 1324.7,324.8C1337.4,330.4 1350.8,337.7 1363.4,339.2C1376.0,340.6 1394.1,334.5 1400.2,333.6" fill="none" stroke="#c98f79" stroke-width="2.9" stroke-linecap="round" stroke-linejoin="round"/>
<path d="M1225.7,209.5L1245.1,209.5L1245.1,238.4" fill="none" stroke="#8e8e8e" stroke-width="1.1"/>
<rect x="1160.3" y="197.9" width="65.9" height="22.9" rx="11.5" fill="#7c9fc2"/>
<text x="1193.2" y="214.8" font-size="15.00" fill="#ffffff" font-weight="500" text-anchor="middle" letter-spacing="0.6">台北市</text>
<circle cx="1400.5" cy="299.9" r="4.7" fill="#7c9fc2" stroke="#f0f0eb" stroke-width="1.8"/>
<text x="1410.4" y="288.3" font-size="15.00" fill="#5f8db8" font-weight="400" text-anchor="end" stroke="#5f8db8" stroke-width="0.45" stroke-linejoin="round">4.9</text>
<rect x="1486.0" y="193.9" width="409.7" height="175.9" fill="#f0f0eb"/>
<path d="M1486.0,193.9V369.8H1895.7" fill="none" stroke="#d8d9da" stroke-width="1"/>
<path d="M1486.0,219.8H1895.7" stroke="#cfd1d3" stroke-width="1.6" stroke-dasharray="4.4,1.6" fill="none"/>
<text x="1476.5" y="224.5" font-size="15.20" fill="#7d7d7d" font-weight="400" text-anchor="end" stroke="#7d7d7d" stroke-width="0.46" stroke-linejoin="round">4</text>
<path d="M1486.0,269.4H1895.7" stroke="#cfd1d3" stroke-width="1.6" stroke-dasharray="4.4,1.6" fill="none"/>
<text x="1476.5" y="274.1" font-size="15.20" fill="#7d7d7d" font-weight="400" text-anchor="end" stroke="#7d7d7d" stroke-width="0.46" stroke-linejoin="round">3</text>
<path d="M1486.0,319.3H1895.7" stroke="#cfd1d3" stroke-width="1.6" stroke-dasharray="4.4,1.6" fill="none"/>
<text x="1476.5" y="324.0" font-size="15.20" fill="#7d7d7d" font-weight="400" text-anchor="end" stroke="#7d7d7d" stroke-width="0.46" stroke-linejoin="round">2</text>
<text x="1476.5" y="373.6" font-size="15.20" fill="#7d7d7d" font-weight="400" text-anchor="end" stroke="#7d7d7d" stroke-width="0.46" stroke-linejoin="round">1</text>
<circle cx="1504.3" cy="370.0" r="3.8" fill="#c4c4c4"/>
<text x="1504.0" y="394.7" font-size="15.40" fill="#858585" font-weight="400" text-anchor="middle" letter-spacing="0.4" stroke="#858585" stroke-width="0.46" stroke-linejoin="round">2012</text>
<circle cx="1541.1" cy="370.0" r="3.8" fill="#c4c4c4"/>
<text x="1540.8" y="394.7" font-size="15.40" fill="#858585" font-weight="400" text-anchor="middle" letter-spacing="0.4" stroke="#858585" stroke-width="0.46" stroke-linejoin="round">13</text>
<circle cx="1578.1" cy="370.0" r="3.8" fill="#c4c4c4"/>
<text x="1577.8" y="394.7" font-size="15.40" fill="#858585" font-weight="400" text-anchor="middle" letter-spacing="0.4" stroke="#858585" stroke-width="0.46" stroke-linejoin="round">14</text>
<circle cx="1615.6" cy="370.0" r="3.8" fill="#c4c4c4"/>
<text x="1615.3" y="394.7" font-size="15.40" fill="#858585" font-weight="400" text-anchor="middle" letter-spacing="0.4" stroke="#858585" stroke-width="0.46" stroke-linejoin="round">15</text>
<circle cx="1653.2" cy="370.0" r="3.8" fill="#c4c4c4"/>
<text x="1652.9" y="394.7" font-size="15.40" fill="#858585" font-weight="400" text-anchor="middle" letter-spacing="0.4" stroke="#858585" stroke-width="0.46" stroke-linejoin="round">16</text>
<circle cx="1689.9" cy="370.0" r="3.8" fill="#c4c4c4"/>
<text x="1689.6" y="394.7" font-size="15.40" fill="#858585" font-weight="400" text-anchor="middle" letter-spacing="0.4" stroke="#858585" stroke-width="0.46" stroke-linejoin="round">17</text>
<circle cx="1729.0" cy="370.0" r="3.8" fill="#c4c4c4"/>
<text x="1728.7" y="394.7" font-size="15.40" fill="#858585" font-weight="400" text-anchor="middle" letter-spacing="0.4" stroke="#858585" stroke-width="0.46" stroke-linejoin="round">18</text>
<circle cx="1764.7" cy="370.0" r="3.8" fill="#c4c4c4"/>
<text x="1764.4" y="394.7" font-size="15.40" fill="#858585" font-weight="400" text-anchor="middle" letter-spacing="0.4" stroke="#858585" stroke-width="0.46" stroke-linejoin="round">19</text>
<circle cx="1802.2" cy="370.0" r="3.8" fill="#c4c4c4"/>
<text x="1801.9" y="394.7" font-size="15.40" fill="#858585" font-weight="400" text-anchor="middle" letter-spacing="0.4" stroke="#858585" stroke-width="0.46" stroke-linejoin="round">20</text>
<circle cx="1839.8" cy="370.0" r="3.8" fill="#c4c4c4"/>
<text x="1839.5" y="394.7" font-size="15.40" fill="#858585" font-weight="400" text-anchor="middle" letter-spacing="0.4" stroke="#858585" stroke-width="0.46" stroke-linejoin="round">21</text>
<circle cx="1877.3" cy="370.0" r="3.8" fill="#c4c4c4"/>
<text x="1877.0" y="394.7" font-size="15.40" fill="#858585" font-weight="400" text-anchor="middle" letter-spacing="0.4" stroke="#858585" stroke-width="0.46" stroke-linejoin="round">22</text>
<path d="M1503.4,328.6C1509.7,328.4 1528.6,327.3 1541.1,327.3C1553.5,327.3 1565.7,329.0 1578.1,328.6C1590.5,328.2 1603.1,325.4 1615.6,324.8C1628.1,324.2 1640.8,326.1 1653.2,324.8C1665.5,323.5 1677.3,318.1 1689.9,317.3C1702.6,316.4 1716.5,320.6 1729.0,319.8C1741.4,318.9 1752.5,314.6 1764.7,312.2C1776.9,309.8 1789.7,307.3 1802.2,305.2C1814.8,303.1 1827.3,301.0 1839.8,299.6C1852.3,298.3 1871.0,297.5 1877.3,297.1" fill="none" stroke="#8e88ac" stroke-width="2.9" stroke-linecap="round" stroke-linejoin="round"/>
<path d="M1503.4,292.1C1509.7,290.0 1528.6,281.6 1541.1,279.5C1553.5,277.4 1565.7,280.2 1578.1,279.5C1590.5,278.8 1603.1,276.0 1615.6,275.2C1628.1,274.4 1640.8,277.3 1653.2,274.4C1665.5,271.6 1677.3,257.4 1689.9,258.1C1702.6,258.7 1716.5,280.9 1729.0,278.2C1741.4,275.5 1752.5,248.0 1764.7,241.7C1776.9,235.4 1789.7,245.4 1802.2,240.4C1814.8,235.5 1827.3,215.1 1839.8,212.0C1852.3,208.8 1871.0,220.0 1877.3,221.6" fill="none" stroke="#7c9fc2" stroke-width="2.9" stroke-linecap="round" stroke-linejoin="round"/>
<path d="M1503.4,336.1C1509.7,335.2 1528.6,332.3 1541.1,330.6C1553.5,328.9 1565.7,326.6 1578.1,326.1C1590.5,325.5 1603.1,327.5 1615.6,327.3C1628.1,327.1 1640.8,329.0 1653.2,324.8C1665.5,320.6 1677.3,305.5 1689.9,302.1C1702.6,298.8 1716.5,304.2 1729.0,304.7C1741.4,305.2 1752.5,305.3 1764.7,305.2C1776.9,305.0 1789.7,305.0 1802.2,303.9C1814.8,302.8 1827.3,300.9 1839.8,298.4C1852.3,295.8 1871.0,290.4 1877.3,288.8" fill="none" stroke="#a29c66" stroke-width="2.9" stroke-linecap="round" stroke-linejoin="round"/>
<path d="M1503.4,314.0C1509.7,315.5 1528.6,322.2 1541.1,323.0C1553.5,323.9 1565.7,318.8 1578.1,319.0C1590.5,319.2 1603.1,323.3 1615.6,324.1C1628.1,324.8 1640.8,324.7 1653.2,323.5C1665.5,322.4 1677.3,319.2 1689.9,317.3C1702.6,315.3 1716.5,310.5 1729.0,311.7C1741.4,313.0 1752.5,325.1 1764.7,324.8C1776.9,324.5 1789.7,311.2 1802.2,309.7C1814.8,308.2 1827.3,316.1 1839.8,316.0C1852.3,315.9 1871.0,310.1 1877.3,308.9" fill="none" stroke="#7c9a9e" stroke-width="2.9" stroke-linecap="round" stroke-linejoin="round"/>
<path d="M1503.4,343.7C1509.7,343.6 1528.6,345.2 1541.1,343.2C1553.5,341.2 1565.7,333.0 1578.1,331.6C1590.5,330.2 1603.1,334.0 1615.6,334.9C1628.1,335.7 1640.8,338.1 1653.2,336.6C1665.5,335.2 1677.3,328.2 1689.9,326.1C1702.6,324.0 1716.5,325.9 1729.0,324.1C1741.4,322.2 1752.5,316.3 1764.7,314.7C1776.9,313.2 1789.7,316.2 1802.2,314.7C1814.8,313.3 1827.3,307.2 1839.8,305.9C1852.3,304.7 1871.0,307.0 1877.3,307.2" fill="none" stroke="#7bab82" stroke-width="2.9" stroke-linecap="round" stroke-linejoin="round"/>
<path d="M1503.4,348.7C1509.7,347.3 1528.6,340.5 1541.1,339.9C1553.5,339.4 1565.7,344.6 1578.1,345.5C1590.5,346.3 1603.1,345.5 1615.6,345.0C1628.1,344.4 1640.8,343.8 1653.2,342.4C1665.5,341.1 1677.3,336.7 1689.9,336.9C1702.6,337.1 1716.5,343.1 1729.0,343.7C1741.4,344.3 1752.5,342.6 1764.7,340.7C1776.9,338.7 1789.7,332.8 1802.2,331.9C1814.8,330.9 1827.3,335.2 1839.8,334.9C1852.3,334.5 1871.0,330.7 1877.3,329.8" fill="none" stroke="#acacac" stroke-width="2.9" stroke-linecap="round" stroke-linejoin="round"/>
<path d="M1503.4,329.1C1509.7,330.5 1528.6,335.4 1541.1,337.4C1553.5,339.4 1565.7,343.4 1578.1,341.2C1590.5,339.0 1603.1,325.2 1615.6,324.1C1628.1,322.9 1640.8,333.2 1653.2,334.1C1665.5,335.1 1677.3,330.3 1689.9,329.8C1702.6,329.3 1716.5,333.6 1729.0,331.1C1741.4,328.6 1752.5,318.4 1764.7,314.7C1776.9,311.1 1789.7,309.9 1802.2,309.2C1814.8,308.5 1827.3,313.9 1839.8,310.5C1852.3,307.1 1871.0,292.4 1877.3,288.8" fill="none" stroke="#c98f79" stroke-width="2.9" stroke-linecap="round" stroke-linejoin="round"/>
<path d="M1826.5,268.6L1845.1,268.6L1845.1,219.0" fill="none" stroke="#8e8e8e" stroke-width="1.1"/>
<rect x="1761.0" y="256.8" width="66.0" height="22.4" rx="11.2" fill="#7c9fc2"/>
<text x="1794.0" y="273.4" font-size="15.00" fill="#ffffff" font-weight="500" text-anchor="middle" letter-spacing="0.6">台北市</text>
<circle cx="1876.9" cy="224.3" r="4.7" fill="#7c9fc2" stroke="#f0f0eb" stroke-width="1.8"/>
<text x="1887.5" y="214.0" font-size="15.00" fill="#5f8db8" font-weight="400" text-anchor="end" stroke="#5f8db8" stroke-width="0.45" stroke-linejoin="round">3.9</text>
<rect x="43.2" y="510.2" width="409.9" height="176.6" fill="#f0f0eb"/>
<path d="M43.2,510.2V686.8H453.1" fill="none" stroke="#d8d9da" stroke-width="1"/>
<path d="M43.2,526.6H453.1" stroke="#cfd1d3" stroke-width="1.6" stroke-dasharray="4.4,1.6" fill="none"/>
<text x="33.7" y="531.3" font-size="15.20" fill="#7d7d7d" font-weight="400" text-anchor="end" stroke="#7d7d7d" stroke-width="0.46" stroke-linejoin="round">3.5</text>
<path d="M43.2,607.2H453.1" stroke="#cfd1d3" stroke-width="1.6" stroke-dasharray="4.4,1.6" fill="none"/>
<text x="33.7" y="611.9" font-size="15.20" fill="#7d7d7d" font-weight="400" text-anchor="end" stroke="#7d7d7d" stroke-width="0.46" stroke-linejoin="round">3.0</text>
<text x="33.7" y="690.4" font-size="15.20" fill="#7d7d7d" font-weight="400" text-anchor="end" stroke="#7d7d7d" stroke-width="0.46" stroke-linejoin="round">2.5</text>
<circle cx="61.8" cy="687.0" r="3.8" fill="#c4c4c4"/>
<text x="61.5" y="711.7" font-size="15.40" fill="#858585" font-weight="400" text-anchor="middle" letter-spacing="0.4" stroke="#858585" stroke-width="0.46" stroke-linejoin="round">2012</text>
<circle cx="97.9" cy="687.0" r="3.8" fill="#c4c4c4"/>
<text x="97.6" y="711.7" font-size="15.40" fill="#858585" font-weight="400" text-anchor="middle" letter-spacing="0.4" stroke="#858585" stroke-width="0.46" stroke-linejoin="round">13</text>
<circle cx="134.9" cy="687.0" r="3.8" fill="#c4c4c4"/>
<text x="134.6" y="711.7" font-size="15.40" fill="#858585" font-weight="400" text-anchor="middle" letter-spacing="0.4" stroke="#858585" stroke-width="0.46" stroke-linejoin="round">14</text>
<circle cx="172.2" cy="687.0" r="3.8" fill="#c4c4c4"/>
<text x="171.9" y="711.7" font-size="15.40" fill="#858585" font-weight="400" text-anchor="middle" letter-spacing="0.4" stroke="#858585" stroke-width="0.46" stroke-linejoin="round">15</text>
<circle cx="209.9" cy="687.0" r="3.8" fill="#c4c4c4"/>
<text x="209.6" y="711.7" font-size="15.40" fill="#858585" font-weight="400" text-anchor="middle" letter-spacing="0.4" stroke="#858585" stroke-width="0.46" stroke-linejoin="round">16</text>
<circle cx="246.6" cy="687.0" r="3.8" fill="#c4c4c4"/>
<text x="246.3" y="711.7" font-size="15.40" fill="#858585" font-weight="400" text-anchor="middle" letter-spacing="0.4" stroke="#858585" stroke-width="0.46" stroke-linejoin="round">17</text>
<circle cx="286.6" cy="687.0" r="3.8" fill="#c4c4c4"/>
<text x="286.3" y="711.7" font-size="15.40" fill="#858585" font-weight="400" text-anchor="middle" letter-spacing="0.4" stroke="#858585" stroke-width="0.46" stroke-linejoin="round">18</text>
<circle cx="321.2" cy="687.0" r="3.8" fill="#c4c4c4"/>
<text x="320.9" y="711.7" font-size="15.40" fill="#858585" font-weight="400" text-anchor="middle" letter-spacing="0.4" stroke="#858585" stroke-width="0.46" stroke-linejoin="round">19</text>
<circle cx="359.1" cy="687.0" r="3.8" fill="#c4c4c4"/>
<text x="358.8" y="711.7" font-size="15.40" fill="#858585" font-weight="400" text-anchor="middle" letter-spacing="0.4" stroke="#858585" stroke-width="0.46" stroke-linejoin="round">20</text>
<circle cx="397.0" cy="687.0" r="3.8" fill="#c4c4c4"/>
<text x="396.7" y="711.7" font-size="15.40" fill="#858585" font-weight="400" text-anchor="middle" letter-spacing="0.4" stroke="#858585" stroke-width="0.46" stroke-linejoin="round">21</text>
<circle cx="434.3" cy="687.0" r="3.8" fill="#c4c4c4"/>
<text x="434.0" y="711.7" font-size="15.40" fill="#858585" font-weight="400" text-anchor="middle" letter-spacing="0.4" stroke="#858585" stroke-width="0.46" stroke-linejoin="round">22</text>
<path d="M60.6,569.9C66.8,570.3 85.5,570.3 97.9,572.8C110.3,575.3 122.5,581.6 134.9,584.8C147.3,587.9 159.8,589.9 172.2,591.6C184.7,593.4 197.5,595.0 209.9,595.5C222.2,596.0 233.8,594.2 246.6,594.6C259.4,595.1 274.1,596.5 286.6,598.2C299.0,600.0 309.1,601.5 321.2,605.1C333.3,608.6 346.5,616.2 359.1,619.4C371.7,622.6 384.5,622.1 397.0,624.5C409.6,626.8 428.1,631.9 434.3,633.4" fill="none" stroke="#8e88ac" stroke-width="2.9" stroke-linecap="round" stroke-linejoin="round"/>
<path d="M60.6,572.8C66.8,575.2 85.5,585.2 97.9,587.2C110.3,589.2 122.5,583.7 134.9,584.8C147.3,585.9 159.8,590.0 172.2,593.7C184.7,597.5 197.5,607.2 209.9,607.2C222.2,607.2 233.8,598.1 246.6,593.7C259.4,589.4 274.1,581.7 286.6,581.2C299.0,580.7 309.1,586.9 321.2,590.7C333.3,594.6 346.5,594.9 359.1,604.5C371.7,614.1 384.5,640.4 397.0,648.4C409.6,656.3 428.1,651.6 434.3,652.2" fill="none" stroke="#7c9fc2" stroke-width="2.9" stroke-linecap="round" stroke-linejoin="round"/>
<path d="M60.6,561.8C66.8,562.2 85.5,563.3 97.9,564.2C110.3,565.0 122.5,563.5 134.9,566.9C147.3,570.2 159.8,580.2 172.2,584.2C184.7,588.2 197.5,589.7 209.9,590.7C222.2,591.8 233.8,589.4 246.6,590.7C259.4,592.1 274.1,595.5 286.6,599.1C299.0,602.7 309.1,607.5 321.2,612.5C333.3,617.6 346.5,629.2 359.1,629.6C371.7,629.9 384.5,614.0 397.0,614.6C409.6,615.3 428.1,630.3 434.3,633.4" fill="none" stroke="#a29c66" stroke-width="2.9" stroke-linecap="round" stroke-linejoin="round"/>
<path d="M60.6,527.5C66.8,525.7 85.5,515.9 97.9,517.0C110.3,518.1 122.5,531.0 134.9,534.0C147.3,537.0 159.8,531.8 172.2,534.9C184.7,538.1 197.5,551.0 209.9,552.8C222.2,554.7 233.8,543.9 246.6,546.0C259.4,548.1 274.1,560.7 286.6,565.4C299.0,570.0 309.1,573.6 321.2,573.7C333.3,573.9 346.5,562.6 359.1,566.3C371.7,569.9 384.5,590.4 397.0,595.5C409.6,600.6 428.1,596.8 434.3,597.0" fill="none" stroke="#7c9a9e" stroke-width="2.9" stroke-linecap="round" stroke-linejoin="round"/>
<path d="M60.6,563.9C66.8,563.2 85.5,556.6 97.9,559.7C110.3,562.8 122.5,577.9 134.9,582.7C147.3,587.5 159.8,583.0 172.2,588.7C184.7,594.3 197.5,615.1 209.9,616.4C222.2,617.8 233.8,601.0 246.6,596.7C259.4,592.4 274.1,591.2 286.6,590.7C299.0,590.2 309.1,590.7 321.2,593.7C333.3,596.7 346.5,604.2 359.1,608.7C371.7,613.1 384.5,618.6 397.0,620.6C409.6,622.6 428.1,620.6 434.3,620.6" fill="none" stroke="#7bab82" stroke-width="2.9" stroke-linecap="round" stroke-linejoin="round"/>
<path d="M60.6,577.6C66.8,577.6 85.5,576.0 97.9,577.6C110.3,579.2 122.5,585.1 134.9,587.2C147.3,589.3 159.8,589.1 172.2,590.1C184.7,591.2 197.5,593.2 209.9,593.7C222.2,594.2 233.8,592.5 246.6,593.1C259.4,593.8 274.1,594.4 286.6,597.6C299.0,600.8 309.1,606.2 321.2,612.5C333.3,618.9 346.5,632.6 359.1,635.5C371.7,638.4 384.5,629.0 397.0,629.9C409.6,630.7 428.1,639.1 434.3,640.9" fill="none" stroke="#acacac" stroke-width="2.9" stroke-linecap="round" stroke-linejoin="round"/>
<path d="M60.6,582.7C66.8,584.2 85.5,588.9 97.9,591.6C110.3,594.4 122.5,595.5 134.9,599.1C147.3,602.7 159.8,616.7 172.2,613.4C184.7,610.2 197.5,582.6 209.9,579.7C222.2,576.8 233.8,593.0 246.6,596.1C259.4,599.3 274.1,598.4 286.6,598.5C299.0,598.6 309.1,592.7 321.2,596.7C333.3,600.7 346.5,617.4 359.1,622.4C371.7,627.4 384.5,623.9 397.0,626.6C409.6,629.3 428.1,636.5 434.3,638.5" fill="none" stroke="#c98f79" stroke-width="2.9" stroke-linecap="round" stroke-linejoin="round"/>
<path d="M374.0,540.0L401.5,540.0L401.5,588.7" fill="none" stroke="#8e8e8e" stroke-width="1.1"/>
<rect x="309.9" y="528.5" width="64.6" height="21.9" rx="10.9" fill="#7c9a9e"/>
<text x="342.2" y="544.9" font-size="15.00" fill="#ffffff" font-weight="500" text-anchor="middle" letter-spacing="0.6">桃園市</text>
<circle cx="434.6" cy="596.7" r="4.7" fill="#7c9a9e" stroke="#f0f0eb" stroke-width="1.8"/>
<text x="443.9" y="586.3" font-size="15.00" fill="#7c9a9e" font-weight="400" text-anchor="end" stroke="#7c9a9e" stroke-width="0.45" stroke-linejoin="round">3.1</text>
<path d="M366.6,664.0L396.4,664.0L396.4,649.9" fill="none" stroke="#8e8e8e" stroke-width="1.1"/>
<rect x="301.9" y="652.9" width="65.2" height="21.9" rx="10.9" fill="#7c9fc2"/>
<text x="334.5" y="669.2" font-size="15.00" fill="#ffffff" font-weight="500" text-anchor="middle" letter-spacing="0.6">台北市</text>
<circle cx="434.6" cy="652.5" r="4.7" fill="#7c9fc2" stroke="#f0f0eb" stroke-width="1.8"/>
<text x="443.9" y="672.2" font-size="15.00" fill="#5f8db8" font-weight="400" text-anchor="end" stroke="#5f8db8" stroke-width="0.45" stroke-linejoin="round">2.7</text>
<rect x="525.6" y="510.2" width="411.1" height="176.6" fill="#f0f0eb"/>
<path d="M525.6,510.2V686.8H936.7" fill="none" stroke="#d8d9da" stroke-width="1"/>
<path d="M525.6,510.1H936.7" stroke="#cfd1d3" stroke-width="1.6" stroke-dasharray="4.4,1.6" fill="none"/>
<text x="516.1" y="514.8" font-size="15.20" fill="#7d7d7d" font-weight="400" text-anchor="end" stroke="#7d7d7d" stroke-width="0.46" stroke-linejoin="round">14</text>
<path d="M525.6,599.1H936.7" stroke="#cfd1d3" stroke-width="1.6" stroke-dasharray="4.4,1.6" fill="none"/>
<text x="516.1" y="603.8" font-size="15.20" fill="#7d7d7d" font-weight="400" text-anchor="end" stroke="#7d7d7d" stroke-width="0.46" stroke-linejoin="round">7</text>
<text x="516.1" y="690.4" font-size="15.20" fill="#7d7d7d" font-weight="400" text-anchor="end" stroke="#7d7d7d" stroke-width="0.46" stroke-linejoin="round">0</text>
<circle cx="544.2" cy="687.0" r="3.8" fill="#c4c4c4"/>
<text x="543.9" y="711.7" font-size="15.40" fill="#858585" font-weight="400" text-anchor="middle" letter-spacing="0.4" stroke="#858585" stroke-width="0.46" stroke-linejoin="round">2012</text>
<circle cx="581.5" cy="687.0" r="3.8" fill="#c4c4c4"/>
<text x="581.2" y="711.7" font-size="15.40" fill="#858585" font-weight="400" text-anchor="middle" letter-spacing="0.4" stroke="#858585" stroke-width="0.46" stroke-linejoin="round">13</text>
<circle cx="617.9" cy="687.0" r="3.8" fill="#c4c4c4"/>
<text x="617.6" y="711.7" font-size="15.40" fill="#858585" font-weight="400" text-anchor="middle" letter-spacing="0.4" stroke="#858585" stroke-width="0.46" stroke-linejoin="round">14</text>
<circle cx="655.5" cy="687.0" r="3.8" fill="#c4c4c4"/>
<text x="655.2" y="711.7" font-size="15.40" fill="#858585" font-weight="400" text-anchor="middle" letter-spacing="0.4" stroke="#858585" stroke-width="0.46" stroke-linejoin="round">15</text>
<circle cx="693.1" cy="687.0" r="3.8" fill="#c4c4c4"/>
<text x="692.8" y="711.7" font-size="15.40" fill="#858585" font-weight="400" text-anchor="middle" letter-spacing="0.4" stroke="#858585" stroke-width="0.46" stroke-linejoin="round">16</text>
<circle cx="730.1" cy="687.0" r="3.8" fill="#c4c4c4"/>
<text x="729.8" y="711.7" font-size="15.40" fill="#858585" font-weight="400" text-anchor="middle" letter-spacing="0.4" stroke="#858585" stroke-width="0.46" stroke-linejoin="round">17</text>
<circle cx="768.4" cy="687.0" r="3.8" fill="#c4c4c4"/>
<text x="768.1" y="711.7" font-size="15.40" fill="#858585" font-weight="400" text-anchor="middle" letter-spacing="0.4" stroke="#858585" stroke-width="0.46" stroke-linejoin="round">18</text>
<circle cx="805.4" cy="687.0" r="3.8" fill="#c4c4c4"/>
<text x="805.1" y="711.7" font-size="15.40" fill="#858585" font-weight="400" text-anchor="middle" letter-spacing="0.4" stroke="#858585" stroke-width="0.46" stroke-linejoin="round">19</text>
<circle cx="842.1" cy="687.0" r="3.8" fill="#c4c4c4"/>
<text x="841.8" y="711.7" font-size="15.40" fill="#858585" font-weight="400" text-anchor="middle" letter-spacing="0.4" stroke="#858585" stroke-width="0.46" stroke-linejoin="round">20</text>
<circle cx="880.0" cy="687.0" r="3.8" fill="#c4c4c4"/>
<text x="879.7" y="711.7" font-size="15.40" fill="#858585" font-weight="400" text-anchor="middle" letter-spacing="0.4" stroke="#858585" stroke-width="0.46" stroke-linejoin="round">21</text>
<circle cx="917.3" cy="687.0" r="3.8" fill="#c4c4c4"/>
<text x="917.0" y="711.7" font-size="15.40" fill="#858585" font-weight="400" text-anchor="middle" letter-spacing="0.4" stroke="#858585" stroke-width="0.46" stroke-linejoin="round">22</text>
<path d="M543.0,657.9C549.4,657.8 569.0,657.4 581.5,657.3C594.0,657.2 605.6,657.7 617.9,657.3C630.2,657.0 643.0,656.1 655.5,655.2C668.1,654.4 680.7,652.6 693.1,652.2C705.6,651.8 717.6,653.1 730.1,652.8C742.7,652.5 755.8,651.2 768.4,650.4C780.9,649.7 793.1,649.2 805.4,648.4C817.7,647.5 829.7,646.5 842.1,645.4C854.5,644.2 867.5,642.5 880.0,641.5C892.5,640.5 911.1,639.8 917.3,639.4" fill="none" stroke="#8e88ac" stroke-width="2.9" stroke-linecap="round" stroke-linejoin="round"/>
<path d="M543.0,596.1C549.4,595.5 569.0,592.8 581.5,592.5C594.0,592.3 605.6,595.5 617.9,594.6C630.2,593.7 643.0,590.0 655.5,587.2C668.1,584.3 680.7,576.4 693.1,577.3C705.6,578.2 717.6,590.5 730.1,592.5C742.7,594.6 755.8,590.9 768.4,589.6C780.9,588.2 793.1,586.8 805.4,584.2C817.7,581.5 829.7,578.3 842.1,573.7C854.5,569.2 867.5,562.2 880.0,556.7C892.5,551.2 911.1,543.5 917.3,540.9" fill="none" stroke="#7c9fc2" stroke-width="2.9" stroke-linecap="round" stroke-linejoin="round"/>
<path d="M543.0,670.1C549.4,670.2 569.0,671.4 581.5,670.7C594.0,670.1 605.6,667.2 617.9,666.3C630.2,665.4 643.0,666.0 655.5,665.4C668.1,664.7 680.7,663.6 693.1,662.4C705.6,661.2 717.6,659.0 730.1,658.2C742.7,657.5 755.8,658.1 768.4,657.9C780.9,657.8 793.1,657.8 805.4,657.3C817.7,656.8 829.7,655.3 842.1,654.9C854.5,654.5 867.5,654.7 880.0,654.9C892.5,655.2 911.1,656.2 917.3,656.4" fill="none" stroke="#a29c66" stroke-width="2.9" stroke-linecap="round" stroke-linejoin="round"/>
<path d="M543.0,666.3C549.4,665.3 569.0,661.3 581.5,660.3C594.0,659.3 605.6,660.8 617.9,660.3C630.2,659.8 643.0,658.6 655.5,657.3C668.1,656.1 680.7,653.8 693.1,652.8C705.6,651.8 717.6,652.1 730.1,651.3C742.7,650.6 755.8,649.2 768.4,648.4C780.9,647.5 793.1,647.5 805.4,646.3C817.7,645.0 829.7,641.8 842.1,640.9C854.5,640.0 867.5,642.0 880.0,640.9C892.5,639.8 911.1,635.4 917.3,634.3" fill="none" stroke="#7c9a9e" stroke-width="2.9" stroke-linecap="round" stroke-linejoin="round"/>
<path d="M543.0,661.2C549.4,661.3 569.0,661.2 581.5,661.8C594.0,662.4 605.6,664.4 617.9,664.8C630.2,665.2 643.0,664.3 655.5,664.2C668.1,664.1 680.7,664.2 693.1,664.2C705.6,664.2 717.6,664.3 730.1,664.2C742.7,664.0 755.8,663.7 768.4,663.3C780.9,662.9 793.1,662.8 805.4,661.8C817.7,660.8 829.7,659.6 842.1,657.3C854.5,655.1 867.5,650.2 880.0,648.4C892.5,646.5 911.1,646.6 917.3,646.3" fill="none" stroke="#7bab82" stroke-width="2.9" stroke-linecap="round" stroke-linejoin="round"/>
<path d="M543.0,675.2C549.4,675.4 569.0,675.9 581.5,676.1C594.0,676.4 605.6,676.9 617.9,676.7C630.2,676.6 643.0,675.7 655.5,675.2C668.1,674.7 680.7,674.0 693.1,673.7C705.6,673.5 717.6,673.8 730.1,673.7C742.7,673.6 755.8,673.4 768.4,673.1C780.9,672.9 793.1,672.5 805.4,672.2C817.7,671.9 829.7,671.7 842.1,671.3C854.5,671.0 867.5,670.5 880.0,670.1C892.5,669.8 911.1,669.4 917.3,669.3" fill="none" stroke="#acacac" stroke-width="2.9" stroke-linecap="round" stroke-linejoin="round"/>
<path d="M543.0,664.8C549.4,664.8 569.0,664.2 581.5,664.8C594.0,665.4 605.6,668.0 617.9,668.4C630.2,668.8 643.0,667.6 655.5,667.2C668.1,666.7 680.7,666.1 693.1,665.7C705.6,665.3 717.6,665.2 730.1,664.8C742.7,664.4 755.8,663.8 768.4,663.3C780.9,662.8 793.1,662.4 805.4,661.8C817.7,661.1 829.7,660.0 842.1,659.4C854.5,658.8 867.5,658.6 880.0,658.2C892.5,657.9 911.1,657.5 917.3,657.3" fill="none" stroke="#c98f79" stroke-width="2.9" stroke-linecap="round" stroke-linejoin="round"/>
<path d="M892.8,607.0L919.4,607.0L919.4,551.3" fill="none" stroke="#8e8e8e" stroke-width="1.1"/>
<rect x="827.9" y="595.6" width="65.4" height="22.5" rx="11.2" fill="#7c9fc2"/>
<text x="860.6" y="612.2" font-size="15.00" fill="#ffffff" font-weight="500" text-anchor="middle" letter-spacing="0.6">台北市</text>
<circle cx="917.3" cy="540.0" r="4.7" fill="#7c9fc2" stroke="#f0f0eb" stroke-width="1.8"/>
<text x="932.2" y="529.0" font-size="15.00" fill="#5f8db8" font-weight="400" text-anchor="end" stroke="#5f8db8" stroke-width="0.45" stroke-linejoin="round">11.8</text>
<rect x="1009.2" y="510.2" width="410.5" height="176.6" fill="#f0f0eb"/>
<path d="M1009.2,510.2V686.8H1419.7" fill="none" stroke="#d8d9da" stroke-width="1"/>
<path d="M1009.2,551.3H1419.7" stroke="#cfd1d3" stroke-width="1.6" stroke-dasharray="4.4,1.6" fill="none"/>
<text x="999.7" y="556.0" font-size="15.20" fill="#7d7d7d" font-weight="400" text-anchor="end" stroke="#7d7d7d" stroke-width="0.46" stroke-linejoin="round">15</text>
<path d="M1009.2,618.5H1419.7" stroke="#cfd1d3" stroke-width="1.6" stroke-dasharray="4.4,1.6" fill="none"/>
<text x="999.7" y="623.2" font-size="15.20" fill="#7d7d7d" font-weight="400" text-anchor="end" stroke="#7d7d7d" stroke-width="0.46" stroke-linejoin="round">10</text>
<text x="999.7" y="690.4" font-size="15.20" fill="#7d7d7d" font-weight="400" text-anchor="end" stroke="#7d7d7d" stroke-width="0.46" stroke-linejoin="round">5</text>
<circle cx="1027.2" cy="687.0" r="3.8" fill="#c4c4c4"/>
<text x="1026.9" y="711.7" font-size="15.40" fill="#858585" font-weight="400" text-anchor="middle" letter-spacing="0.4" stroke="#858585" stroke-width="0.46" stroke-linejoin="round">2012</text>
<circle cx="1063.6" cy="687.0" r="3.8" fill="#c4c4c4"/>
<text x="1063.3" y="711.7" font-size="15.40" fill="#858585" font-weight="400" text-anchor="middle" letter-spacing="0.4" stroke="#858585" stroke-width="0.46" stroke-linejoin="round">13</text>
<circle cx="1101.2" cy="687.0" r="3.8" fill="#c4c4c4"/>
<text x="1100.9" y="711.7" font-size="15.40" fill="#858585" font-weight="400" text-anchor="middle" letter-spacing="0.4" stroke="#858585" stroke-width="0.46" stroke-linejoin="round">14</text>
<circle cx="1138.5" cy="687.0" r="3.8" fill="#c4c4c4"/>
<text x="1138.2" y="711.7" font-size="15.40" fill="#858585" font-weight="400" text-anchor="middle" letter-spacing="0.4" stroke="#858585" stroke-width="0.46" stroke-linejoin="round">15</text>
<circle cx="1175.8" cy="687.0" r="3.8" fill="#c4c4c4"/>
<text x="1175.5" y="711.7" font-size="15.40" fill="#858585" font-weight="400" text-anchor="middle" letter-spacing="0.4" stroke="#858585" stroke-width="0.46" stroke-linejoin="round">16</text>
<circle cx="1212.8" cy="687.0" r="3.8" fill="#c4c4c4"/>
<text x="1212.5" y="711.7" font-size="15.40" fill="#858585" font-weight="400" text-anchor="middle" letter-spacing="0.4" stroke="#858585" stroke-width="0.46" stroke-linejoin="round">17</text>
<circle cx="1251.9" cy="687.0" r="3.8" fill="#c4c4c4"/>
<text x="1251.6" y="711.7" font-size="15.40" fill="#858585" font-weight="400" text-anchor="middle" letter-spacing="0.4" stroke="#858585" stroke-width="0.46" stroke-linejoin="round">18</text>
<circle cx="1287.8" cy="687.0" r="3.8" fill="#c4c4c4"/>
<text x="1287.5" y="711.7" font-size="15.40" fill="#858585" font-weight="400" text-anchor="middle" letter-spacing="0.4" stroke="#858585" stroke-width="0.46" stroke-linejoin="round">19</text>
<circle cx="1324.8" cy="687.0" r="3.8" fill="#c4c4c4"/>
<text x="1324.5" y="711.7" font-size="15.40" fill="#858585" font-weight="400" text-anchor="middle" letter-spacing="0.4" stroke="#858585" stroke-width="0.46" stroke-linejoin="round">20</text>
<circle cx="1363.6" cy="687.0" r="3.8" fill="#c4c4c4"/>
<text x="1363.3" y="711.7" font-size="15.40" fill="#858585" font-weight="400" text-anchor="middle" letter-spacing="0.4" stroke="#858585" stroke-width="0.46" stroke-linejoin="round">21</text>
<circle cx="1400.9" cy="687.0" r="3.8" fill="#c4c4c4"/>
<text x="1400.6" y="711.7" font-size="15.40" fill="#858585" font-weight="400" text-anchor="middle" letter-spacing="0.4" stroke="#858585" stroke-width="0.46" stroke-linejoin="round">22</text>
<path d="M1026.6,650.4C1032.7,650.0 1051.1,649.1 1063.6,647.5C1076.0,645.9 1088.7,642.5 1101.2,640.9C1113.7,639.3 1126.1,639.9 1138.5,637.9C1150.9,635.9 1163.4,631.5 1175.8,629.0C1188.2,626.4 1200.1,624.1 1212.8,622.4C1225.5,620.6 1239.5,620.5 1251.9,618.5C1264.4,616.5 1275.6,611.9 1287.8,610.4C1299.9,609.0 1312.1,609.1 1324.8,609.6C1337.4,610.0 1350.9,615.3 1363.6,613.4C1376.3,611.6 1394.7,601.0 1400.9,598.5" fill="none" stroke="#8e88ac" stroke-width="2.9" stroke-linecap="round" stroke-linejoin="round"/>
<path d="M1026.6,637.3C1032.7,637.0 1051.1,636.3 1063.6,635.5C1076.0,634.7 1088.7,633.0 1101.2,632.5C1113.7,632.0 1126.1,635.1 1138.5,632.5C1150.9,630.0 1163.4,620.8 1175.8,617.0C1188.2,613.2 1200.1,611.9 1212.8,609.6C1225.5,607.2 1239.5,609.5 1251.9,602.7C1264.4,595.9 1275.6,577.2 1287.8,568.7C1299.9,560.1 1312.1,552.1 1324.8,551.3C1337.4,550.5 1350.9,565.5 1363.6,563.9C1376.3,562.3 1394.7,545.5 1400.9,541.8" fill="none" stroke="#7c9fc2" stroke-width="2.9" stroke-linecap="round" stroke-linejoin="round"/>
<path d="M1026.6,634.9C1032.7,635.2 1051.1,636.7 1063.6,636.4C1076.0,636.2 1088.7,633.9 1101.2,633.4C1113.7,632.9 1126.1,633.9 1138.5,633.4C1150.9,632.9 1163.4,632.1 1175.8,630.4C1188.2,628.8 1200.1,625.3 1212.8,623.6C1225.5,621.8 1239.5,620.7 1251.9,620.0C1264.4,619.3 1275.6,618.9 1287.8,619.4C1299.9,619.9 1312.1,623.1 1324.8,623.0C1337.4,622.8 1350.9,621.4 1363.6,618.5C1376.3,615.6 1394.7,607.8 1400.9,605.7" fill="none" stroke="#a29c66" stroke-width="2.9" stroke-linecap="round" stroke-linejoin="round"/>
<path d="M1026.6,634.3C1032.7,634.3 1051.1,635.0 1063.6,634.3C1076.0,633.7 1088.7,631.2 1101.2,630.4C1113.7,629.7 1126.1,630.3 1138.5,629.6C1150.9,628.8 1163.4,630.3 1175.8,626.0C1188.2,621.6 1200.1,607.5 1212.8,603.6C1225.5,599.7 1239.5,601.9 1251.9,602.7C1264.4,603.4 1275.6,608.3 1287.8,608.1C1299.9,607.9 1312.1,601.2 1324.8,601.5C1337.4,601.7 1350.9,612.0 1363.6,609.6C1376.3,607.1 1394.7,590.4 1400.9,586.6" fill="none" stroke="#7c9a9e" stroke-width="2.9" stroke-linecap="round" stroke-linejoin="round"/>
<path d="M1026.6,646.9C1032.7,645.0 1051.1,638.1 1063.6,635.5C1076.0,632.9 1088.7,632.5 1101.2,631.3C1113.7,630.1 1126.1,629.4 1138.5,628.4C1150.9,627.4 1163.4,628.9 1175.8,625.4C1188.2,621.9 1200.1,612.1 1212.8,607.5C1225.5,602.8 1239.5,600.2 1251.9,597.6C1264.4,595.0 1275.6,592.8 1287.8,591.6C1299.9,590.5 1312.1,589.3 1324.8,590.7C1337.4,592.2 1350.9,599.6 1363.6,600.6C1376.3,601.6 1394.7,597.4 1400.9,596.7" fill="none" stroke="#7bab82" stroke-width="2.9" stroke-linecap="round" stroke-linejoin="round"/>
<path d="M1026.6,662.4C1032.7,661.5 1051.1,660.3 1063.6,657.3C1076.0,654.3 1088.7,646.1 1101.2,644.5C1113.7,642.8 1126.1,649.0 1138.5,647.5C1150.9,646.0 1163.4,638.9 1175.8,635.5C1188.2,632.2 1200.1,630.1 1212.8,627.5C1225.5,624.8 1239.5,622.5 1251.9,619.4C1264.4,616.3 1275.6,608.2 1287.8,608.7C1299.9,609.2 1312.1,619.8 1324.8,622.4C1337.4,625.0 1350.9,628.3 1363.6,624.5C1376.3,620.7 1394.7,603.8 1400.9,599.7" fill="none" stroke="#acacac" stroke-width="2.9" stroke-linecap="round" stroke-linejoin="round"/>
<path d="M1026.6,641.5C1032.7,640.0 1051.1,636.1 1063.6,632.5C1076.0,629.0 1088.7,623.2 1101.2,620.0C1113.7,616.8 1126.1,617.9 1138.5,613.4C1150.9,609.0 1163.4,596.6 1175.8,593.1C1188.2,589.7 1200.1,592.6 1212.8,592.5C1225.5,592.4 1239.5,594.5 1251.9,592.5C1264.4,590.5 1275.6,581.9 1287.8,580.6C1299.9,579.3 1312.1,584.1 1324.8,584.8C1337.4,585.5 1350.9,587.5 1363.6,584.8C1376.3,582.1 1394.7,571.3 1400.9,568.7" fill="none" stroke="#c98f79" stroke-width="2.9" stroke-linecap="round" stroke-linejoin="round"/>
<path d="M1271.0,530.0L1288.4,530.0L1288.4,563.9" fill="none" stroke="#8e8e8e" stroke-width="1.1"/>
<rect x="1205.8" y="518.9" width="65.7" height="21.9" rx="10.9" fill="#7c9fc2"/>
<text x="1238.7" y="535.2" font-size="15.00" fill="#ffffff" font-weight="500" text-anchor="middle" letter-spacing="0.6">台北市</text>
<circle cx="1401.2" cy="541.8" r="4.7" fill="#7c9fc2" stroke="#f0f0eb" stroke-width="1.8"/>
<text x="1416.1" y="531.0" font-size="15.00" fill="#5f8db8" font-weight="400" text-anchor="end" stroke="#5f8db8" stroke-width="0.45" stroke-linejoin="round">15.8</text>
<path d="M1190.4,556.5L1206.9,556.5L1206.9,589.6" fill="none" stroke="#8e8e8e" stroke-width="1.1"/>
<rect x="1125.8" y="544.9" width="65.1" height="21.9" rx="10.9" fill="#c98f79"/>
<text x="1158.3" y="561.2" font-size="15.00" fill="#ffffff" font-weight="500" text-anchor="middle" letter-spacing="0.6">高雄市</text>
<circle cx="1401.2" cy="568.7" r="4.7" fill="#c98f79" stroke="#f0f0eb" stroke-width="1.8"/>
<text x="1416.1" y="561.2" font-size="15.00" fill="#c98f79" font-weight="400" text-anchor="end" stroke="#c98f79" stroke-width="0.45" stroke-linejoin="round">13.8</text>
<rect x="1486.5" y="510.2" width="411.1" height="176.6" fill="#f0f0eb"/>
<path d="M1486.5,510.2V686.8H1897.6" fill="none" stroke="#d8d9da" stroke-width="1"/>
<path d="M1486.5,536.4H1897.6" stroke="#cfd1d3" stroke-width="1.6" stroke-dasharray="4.4,1.6" fill="none"/>
<text x="1477.0" y="541.1" font-size="15.20" fill="#7d7d7d" font-weight="400" text-anchor="end" stroke="#7d7d7d" stroke-width="0.46" stroke-linejoin="round">3</text>
<path d="M1486.5,586.3H1897.6" stroke="#cfd1d3" stroke-width="1.6" stroke-dasharray="4.4,1.6" fill="none"/>
<text x="1477.0" y="591.0" font-size="15.20" fill="#7d7d7d" font-weight="400" text-anchor="end" stroke="#7d7d7d" stroke-width="0.46" stroke-linejoin="round">2</text>
<path d="M1486.5,635.5H1897.6" stroke="#cfd1d3" stroke-width="1.6" stroke-dasharray="4.4,1.6" fill="none"/>
<text x="1477.0" y="640.2" font-size="15.20" fill="#7d7d7d" font-weight="400" text-anchor="end" stroke="#7d7d7d" stroke-width="0.46" stroke-linejoin="round">1</text>
<text x="1477.0" y="690.4" font-size="15.20" fill="#7d7d7d" font-weight="400" text-anchor="end" stroke="#7d7d7d" stroke-width="0.46" stroke-linejoin="round">0</text>
<circle cx="1504.2" cy="687.0" r="3.8" fill="#c4c4c4"/>
<text x="1503.9" y="711.7" font-size="15.40" fill="#858585" font-weight="400" text-anchor="middle" letter-spacing="0.4" stroke="#858585" stroke-width="0.46" stroke-linejoin="round">2012</text>
<circle cx="1541.5" cy="687.0" r="3.8" fill="#c4c4c4"/>
<text x="1541.2" y="711.7" font-size="15.40" fill="#858585" font-weight="400" text-anchor="middle" letter-spacing="0.4" stroke="#858585" stroke-width="0.46" stroke-linejoin="round">13</text>
<circle cx="1578.8" cy="687.0" r="3.8" fill="#c4c4c4"/>
<text x="1578.5" y="711.7" font-size="15.40" fill="#858585" font-weight="400" text-anchor="middle" letter-spacing="0.4" stroke="#858585" stroke-width="0.46" stroke-linejoin="round">14</text>
<circle cx="1615.6" cy="687.0" r="3.8" fill="#c4c4c4"/>
<text x="1615.3" y="711.7" font-size="15.40" fill="#858585" font-weight="400" text-anchor="middle" letter-spacing="0.4" stroke="#858585" stroke-width="0.46" stroke-linejoin="round">15</text>
<circle cx="1653.5" cy="687.0" r="3.8" fill="#c4c4c4"/>
<text x="1653.2" y="711.7" font-size="15.40" fill="#858585" font-weight="400" text-anchor="middle" letter-spacing="0.4" stroke="#858585" stroke-width="0.46" stroke-linejoin="round">16</text>
<circle cx="1689.9" cy="687.0" r="3.8" fill="#c4c4c4"/>
<text x="1689.6" y="711.7" font-size="15.40" fill="#858585" font-weight="400" text-anchor="middle" letter-spacing="0.4" stroke="#858585" stroke-width="0.46" stroke-linejoin="round">17</text>
<circle cx="1729.0" cy="687.0" r="3.8" fill="#c4c4c4"/>
<text x="1728.7" y="711.7" font-size="15.40" fill="#858585" font-weight="400" text-anchor="middle" letter-spacing="0.4" stroke="#858585" stroke-width="0.46" stroke-linejoin="round">18</text>
<circle cx="1764.8" cy="687.0" r="3.8" fill="#c4c4c4"/>
<text x="1764.5" y="711.7" font-size="15.40" fill="#858585" font-weight="400" text-anchor="middle" letter-spacing="0.4" stroke="#858585" stroke-width="0.46" stroke-linejoin="round">19</text>
<circle cx="1802.1" cy="687.0" r="3.8" fill="#c4c4c4"/>
<text x="1801.8" y="711.7" font-size="15.40" fill="#858585" font-weight="400" text-anchor="middle" letter-spacing="0.4" stroke="#858585" stroke-width="0.46" stroke-linejoin="round">20</text>
<circle cx="1840.0" cy="687.0" r="3.8" fill="#c4c4c4"/>
<text x="1839.7" y="711.7" font-size="15.40" fill="#858585" font-weight="400" text-anchor="middle" letter-spacing="0.4" stroke="#858585" stroke-width="0.46" stroke-linejoin="round">21</text>
<circle cx="1877.3" cy="687.0" r="3.8" fill="#c4c4c4"/>
<text x="1877.0" y="711.7" font-size="15.40" fill="#858585" font-weight="400" text-anchor="middle" letter-spacing="0.4" stroke="#858585" stroke-width="0.46" stroke-linejoin="round">22</text>
<path d="M1503.9,672.2C1510.2,671.4 1529.0,669.0 1541.5,667.2C1554.0,665.3 1566.5,663.1 1578.8,661.2C1591.2,659.3 1603.1,657.8 1615.6,655.8C1628.0,653.8 1641.1,651.7 1653.5,649.3C1665.9,646.8 1677.3,644.5 1689.9,640.9C1702.5,637.3 1716.5,632.0 1729.0,627.5C1741.5,622.9 1752.6,618.1 1764.8,613.4C1777.0,608.8 1789.6,599.1 1802.1,599.7C1814.7,600.3 1827.5,616.9 1840.0,617.0C1852.6,617.2 1871.1,603.3 1877.3,600.6" fill="none" stroke="#8e88ac" stroke-width="2.9" stroke-linecap="round" stroke-linejoin="round"/>
<path d="M1503.9,632.5C1510.2,632.7 1529.0,634.8 1541.5,633.4C1554.0,632.1 1566.5,626.6 1578.8,624.5C1591.2,622.3 1603.1,621.6 1615.6,620.6C1628.0,619.6 1641.1,620.0 1653.5,618.5C1665.9,617.1 1677.3,616.9 1689.9,611.9C1702.5,607.0 1716.5,595.9 1729.0,588.7C1741.5,581.4 1752.6,575.1 1764.8,568.4C1777.0,561.6 1789.6,545.8 1802.1,548.4C1814.7,550.9 1827.5,582.0 1840.0,583.6C1852.6,585.2 1871.1,562.2 1877.3,557.9" fill="none" stroke="#7c9fc2" stroke-width="2.9" stroke-linecap="round" stroke-linejoin="round"/>
<path d="M1503.9,676.1C1510.2,675.1 1529.0,673.0 1541.5,670.1C1554.0,667.3 1566.5,662.7 1578.8,658.8C1591.2,654.9 1603.1,649.9 1615.6,646.9C1628.0,643.9 1641.1,644.1 1653.5,640.9C1665.9,637.7 1677.3,631.4 1689.9,627.5C1702.5,623.5 1716.5,620.3 1729.0,617.0C1741.5,613.7 1752.6,610.2 1764.8,607.5C1777.0,604.7 1789.6,597.4 1802.1,600.6C1814.7,603.8 1827.5,625.1 1840.0,626.6C1852.6,628.1 1871.1,612.4 1877.3,609.6" fill="none" stroke="#a29c66" stroke-width="2.9" stroke-linecap="round" stroke-linejoin="round"/>
<path d="M1503.9,673.7C1510.2,673.0 1529.0,671.2 1541.5,669.3C1554.0,667.3 1566.5,663.6 1578.8,661.8C1591.2,660.0 1603.1,658.6 1615.6,658.2C1628.0,657.9 1641.1,659.5 1653.5,659.7C1665.9,660.0 1677.3,661.1 1689.9,659.7C1702.5,658.3 1716.5,657.2 1729.0,651.3C1741.5,645.5 1752.6,630.0 1764.8,624.5C1777.0,619.0 1789.6,616.9 1802.1,618.5C1814.7,620.1 1827.5,633.7 1840.0,634.3C1852.6,635.0 1871.1,624.4 1877.3,622.4" fill="none" stroke="#7c9a9e" stroke-width="2.9" stroke-linecap="round" stroke-linejoin="round"/>
<path d="M1503.9,679.7C1510.2,679.0 1529.0,676.2 1541.5,675.2C1554.0,674.2 1566.5,676.7 1578.8,673.7C1591.2,670.7 1603.1,662.5 1615.6,657.3C1628.0,652.1 1641.1,647.9 1653.5,642.4C1665.9,636.9 1677.3,630.7 1689.9,624.5C1702.5,618.3 1716.5,610.2 1729.0,605.1C1741.5,600.0 1752.6,601.3 1764.8,593.7C1777.0,586.1 1789.6,563.9 1802.1,559.4C1814.7,554.9 1827.5,568.7 1840.0,566.9C1852.6,565.0 1871.1,551.4 1877.3,548.4" fill="none" stroke="#7bab82" stroke-width="2.9" stroke-linecap="round" stroke-linejoin="round"/>
<path d="M1503.9,673.1C1510.2,672.3 1529.0,670.8 1541.5,668.4C1554.0,665.9 1566.5,660.9 1578.8,658.2C1591.2,655.5 1603.1,653.9 1615.6,652.2C1628.0,650.6 1641.1,650.1 1653.5,648.4C1665.9,646.6 1677.3,644.5 1689.9,641.5C1702.5,638.5 1716.5,634.8 1729.0,630.4C1741.5,626.1 1752.6,620.6 1764.8,615.5C1777.0,610.4 1789.6,600.0 1802.1,600.0C1814.7,600.0 1827.5,615.8 1840.0,615.5C1852.6,615.3 1871.1,601.3 1877.3,598.5" fill="none" stroke="#acacac" stroke-width="2.9" stroke-linecap="round" stroke-linejoin="round"/>
<path d="M1503.9,669.3C1510.2,668.6 1529.0,666.5 1541.5,665.4C1554.0,664.2 1566.5,663.5 1578.8,662.4C1591.2,661.3 1603.1,660.6 1615.6,658.8C1628.0,657.0 1641.1,654.3 1653.5,651.3C1665.9,648.4 1677.3,646.2 1689.9,640.9C1702.5,635.6 1716.5,626.9 1729.0,619.4C1741.5,611.9 1752.6,600.8 1764.8,596.1C1777.0,591.4 1789.6,588.1 1802.1,591.0C1814.7,594.0 1827.5,613.4 1840.0,614.0C1852.6,614.6 1871.1,597.9 1877.3,594.6" fill="none" stroke="#c98f79" stroke-width="2.9" stroke-linecap="round" stroke-linejoin="round"/>
<path d="M1807.2,526.0L1843.9,526.0L1843.9,561.8" fill="none" stroke="#8e8e8e" stroke-width="1.1"/>
<rect x="1741.9" y="515.0" width="65.8" height="21.9" rx="10.9" fill="#7bab82"/>
<text x="1774.8" y="531.4" font-size="15.00" fill="#ffffff" font-weight="500" text-anchor="middle" letter-spacing="0.6">台中市</text>
<circle cx="1877.3" cy="548.0" r="4.7" fill="#7bab82" stroke="#f0f0eb" stroke-width="1.8"/>
<text x="1887.2" y="537.0" font-size="15.00" fill="#7bab82" font-weight="400" text-anchor="end" stroke="#7bab82" stroke-width="0.45" stroke-linejoin="round">2.7</text>
<path d="M1723.6,558.5L1742.4,558.5L1742.4,576.1" fill="none" stroke="#8e8e8e" stroke-width="1.1"/>
<rect x="1658.9" y="547.3" width="65.2" height="21.9" rx="11.0" fill="#7c9fc2"/>
<text x="1691.5" y="563.6" font-size="15.00" fill="#ffffff" font-weight="500" text-anchor="middle" letter-spacing="0.6">台北市</text>
<circle cx="1877.3" cy="558.2" r="4.7" fill="#7c9fc2" stroke="#f0f0eb" stroke-width="1.8"/>
<text x="1887.2" y="581.2" font-size="15.00" fill="#5f8db8" font-weight="400" text-anchor="end" stroke="#5f8db8" stroke-width="0.45" stroke-linejoin="round">2.6</text>
<rect x="42.6" y="830.4" width="408.2" height="175.4" fill="#f0f0eb"/>
<path d="M42.6,830.4V1005.8H450.7" fill="none" stroke="#d8d9da" stroke-width="1"/>
<path d="M42.6,830.2H450.7" stroke="#cfd1d3" stroke-width="1.6" stroke-dasharray="4.4,1.6" fill="none"/>
<text x="33.1" y="834.9" font-size="15.20" fill="#7d7d7d" font-weight="400" text-anchor="end" stroke="#7d7d7d" stroke-width="0.46" stroke-linejoin="round">20</text>
<path d="M42.6,889.0H450.7" stroke="#cfd1d3" stroke-width="1.6" stroke-dasharray="4.4,1.6" fill="none"/>
<text x="33.1" y="893.7" font-size="15.20" fill="#7d7d7d" font-weight="400" text-anchor="end" stroke="#7d7d7d" stroke-width="0.46" stroke-linejoin="round">16</text>
<path d="M42.6,947.2H450.7" stroke="#cfd1d3" stroke-width="1.6" stroke-dasharray="4.4,1.6" fill="none"/>
<text x="33.1" y="951.9" font-size="15.20" fill="#7d7d7d" font-weight="400" text-anchor="end" stroke="#7d7d7d" stroke-width="0.46" stroke-linejoin="round">12</text>
<text x="33.1" y="1010.4" font-size="15.20" fill="#7d7d7d" font-weight="400" text-anchor="end" stroke="#7d7d7d" stroke-width="0.46" stroke-linejoin="round">8</text>
<circle cx="61.8" cy="1006.0" r="3.8" fill="#c4c4c4"/>
<text x="61.5" y="1030.7" font-size="15.40" fill="#858585" font-weight="400" text-anchor="middle" letter-spacing="0.4" stroke="#858585" stroke-width="0.46" stroke-linejoin="round">2012</text>
<circle cx="97.9" cy="1006.0" r="3.8" fill="#c4c4c4"/>
<text x="97.6" y="1030.7" font-size="15.40" fill="#858585" font-weight="400" text-anchor="middle" letter-spacing="0.4" stroke="#858585" stroke-width="0.46" stroke-linejoin="round">13</text>
<circle cx="134.9" cy="1006.0" r="3.8" fill="#c4c4c4"/>
<text x="134.6" y="1030.7" font-size="15.40" fill="#858585" font-weight="400" text-anchor="middle" letter-spacing="0.4" stroke="#858585" stroke-width="0.46" stroke-linejoin="round">14</text>
<circle cx="172.2" cy="1006.0" r="3.8" fill="#c4c4c4"/>
<text x="171.9" y="1030.7" font-size="15.40" fill="#858585" font-weight="400" text-anchor="middle" letter-spacing="0.4" stroke="#858585" stroke-width="0.46" stroke-linejoin="round">15</text>
<circle cx="209.9" cy="1006.0" r="3.8" fill="#c4c4c4"/>
<text x="209.6" y="1030.7" font-size="15.40" fill="#858585" font-weight="400" text-anchor="middle" letter-spacing="0.4" stroke="#858585" stroke-width="0.46" stroke-linejoin="round">16</text>
<circle cx="246.6" cy="1006.0" r="3.8" fill="#c4c4c4"/>
<text x="246.3" y="1030.7" font-size="15.40" fill="#858585" font-weight="400" text-anchor="middle" letter-spacing="0.4" stroke="#858585" stroke-width="0.46" stroke-linejoin="round">17</text>
<circle cx="286.6" cy="1006.0" r="3.8" fill="#c4c4c4"/>
<text x="286.3" y="1030.7" font-size="15.40" fill="#858585" font-weight="400" text-anchor="middle" letter-spacing="0.4" stroke="#858585" stroke-width="0.46" stroke-linejoin="round">18</text>
<circle cx="321.2" cy="1006.0" r="3.8" fill="#c4c4c4"/>
<text x="320.9" y="1030.7" font-size="15.40" fill="#858585" font-weight="400" text-anchor="middle" letter-spacing="0.4" stroke="#858585" stroke-width="0.46" stroke-linejoin="round">19</text>
<circle cx="359.1" cy="1006.0" r="3.8" fill="#c4c4c4"/>
<text x="358.8" y="1030.7" font-size="15.40" fill="#858585" font-weight="400" text-anchor="middle" letter-spacing="0.4" stroke="#858585" stroke-width="0.46" stroke-linejoin="round">20</text>
<circle cx="397.0" cy="1006.0" r="3.8" fill="#c4c4c4"/>
<text x="396.7" y="1030.7" font-size="15.40" fill="#858585" font-weight="400" text-anchor="middle" letter-spacing="0.4" stroke="#858585" stroke-width="0.46" stroke-linejoin="round">21</text>
<circle cx="434.3" cy="1006.0" r="3.8" fill="#c4c4c4"/>
<text x="434.0" y="1030.7" font-size="15.40" fill="#858585" font-weight="400" text-anchor="middle" letter-spacing="0.4" stroke="#858585" stroke-width="0.46" stroke-linejoin="round">22</text>
<path d="M60.0,968.4C66.3,967.2 85.4,963.2 97.9,961.5C110.4,959.8 122.5,959.0 134.9,957.9C147.3,956.8 159.8,956.7 172.2,954.9C184.7,953.2 197.5,950.0 209.9,947.5C222.2,945.0 233.8,942.3 246.6,940.0C259.4,937.7 274.1,935.5 286.6,933.4C299.0,931.3 309.1,930.0 321.2,927.5C333.3,925.0 346.5,921.4 359.1,918.5C371.7,915.6 384.5,912.4 397.0,910.1C409.6,907.9 428.1,905.7 434.3,904.8" fill="none" stroke="#8e88ac" stroke-width="2.9" stroke-linecap="round" stroke-linejoin="round"/>
<path d="M60.0,951.9C66.3,950.7 85.4,947.0 97.9,944.5C110.4,942.0 122.5,938.9 134.9,937.0C147.3,935.2 159.8,935.7 172.2,933.4C184.7,931.2 197.5,927.6 209.9,923.6C222.2,919.6 233.8,913.3 246.6,909.6C259.4,905.8 274.1,903.8 286.6,901.2C299.0,898.6 309.1,895.5 321.2,893.7C333.3,892.0 346.5,892.1 359.1,890.7C371.7,889.4 384.5,888.2 397.0,885.4C409.6,882.5 428.1,875.7 434.3,873.7" fill="none" stroke="#7c9fc2" stroke-width="2.9" stroke-linecap="round" stroke-linejoin="round"/>
<path d="M60.0,987.8C66.3,987.0 85.4,984.7 97.9,983.3C110.4,981.9 122.5,980.4 134.9,979.4C147.3,978.4 159.8,978.7 172.2,977.3C184.7,976.0 197.5,974.0 209.9,971.3C222.2,968.7 233.8,966.8 246.6,961.5C259.4,956.2 274.1,943.4 286.6,939.4C299.0,935.4 309.1,940.0 321.2,937.6C333.3,935.2 346.5,928.4 359.1,925.1C371.7,921.7 384.5,920.2 397.0,917.6C409.6,915.0 428.1,910.9 434.3,909.6" fill="none" stroke="#a29c66" stroke-width="2.9" stroke-linecap="round" stroke-linejoin="round"/>
<path d="M60.0,983.3C66.3,982.8 85.4,981.0 97.9,980.3C110.4,979.6 122.5,979.6 134.9,978.8C147.3,978.1 159.8,979.3 172.2,975.8C184.7,972.3 197.5,960.6 209.9,957.9C222.2,955.2 233.8,960.5 246.6,959.4C259.4,958.3 274.1,953.1 286.6,951.3C299.0,949.6 309.1,954.1 321.2,949.0C333.3,943.8 346.5,925.0 359.1,920.6C371.7,916.2 384.5,924.2 397.0,922.7C409.6,921.2 428.1,913.5 434.3,911.6" fill="none" stroke="#7c9a9e" stroke-width="2.9" stroke-linecap="round" stroke-linejoin="round"/>
<path d="M60.0,963.9C66.3,959.9 85.4,943.1 97.9,940.0C110.4,936.9 122.5,943.1 134.9,945.4C147.3,947.6 159.8,951.6 172.2,953.4C184.7,955.3 197.5,958.4 209.9,956.4C222.2,954.4 233.8,945.5 246.6,941.5C259.4,937.5 274.1,935.5 286.6,932.5C299.0,929.6 309.1,927.3 321.2,923.6C333.3,919.9 346.5,912.1 359.1,910.1C371.7,908.2 384.5,914.2 397.0,911.6C409.6,909.1 428.1,897.5 434.3,894.6" fill="none" stroke="#7bab82" stroke-width="2.9" stroke-linecap="round" stroke-linejoin="round"/>
<path d="M60.0,967.5C66.3,966.3 85.4,962.1 97.9,960.3C110.4,958.5 122.5,958.3 134.9,956.4C147.3,954.5 159.8,949.6 172.2,949.0C184.7,948.3 197.5,953.6 209.9,952.5C222.2,951.4 233.8,944.0 246.6,942.4C259.4,940.8 274.1,944.1 286.6,943.0C299.0,941.8 309.1,938.1 321.2,935.5C333.3,932.9 346.5,929.0 359.1,927.5C371.7,926.0 384.5,926.0 397.0,926.6C409.6,927.2 428.1,930.3 434.3,931.0" fill="none" stroke="#acacac" stroke-width="2.9" stroke-linecap="round" stroke-linejoin="round"/>
<path d="M60.0,950.4C66.3,950.2 85.4,949.6 97.9,949.0C110.4,948.3 122.5,949.3 134.9,946.6C147.3,943.8 159.8,937.1 172.2,932.5C184.7,928.0 197.5,922.1 209.9,919.1C222.2,916.1 233.8,914.0 246.6,914.6C259.4,915.2 274.1,923.5 286.6,922.7C299.0,921.8 309.1,911.5 321.2,909.6C333.3,907.6 346.5,913.5 359.1,910.7C371.7,908.0 384.5,894.7 397.0,892.8C409.6,891.0 428.1,898.6 434.3,899.7" fill="none" stroke="#c98f79" stroke-width="2.9" stroke-linecap="round" stroke-linejoin="round"/>
<path d="M383.0,850.5L400.0,850.5L400.0,881.2" fill="none" stroke="#8e8e8e" stroke-width="1.1"/>
<rect x="318.3" y="838.6" width="65.2" height="22.2" rx="11.1" fill="#7c9fc2"/>
<text x="350.9" y="855.1" font-size="15.00" fill="#ffffff" font-weight="500" text-anchor="middle" letter-spacing="0.6">台北市</text>
<circle cx="434.6" cy="873.7" r="4.7" fill="#7c9fc2" stroke="#f0f0eb" stroke-width="1.8"/>
<text x="449.3" y="863.0" font-size="15.00" fill="#5f8db8" font-weight="400" text-anchor="end" stroke="#5f8db8" stroke-width="0.45" stroke-linejoin="round">17.0</text>
<rect x="525.6" y="830.4" width="411.1" height="175.4" fill="#f0f0eb"/>
<path d="M525.6,830.4V1005.8H936.7" fill="none" stroke="#d8d9da" stroke-width="1"/>
<path d="M525.6,830.2H936.7" stroke="#cfd1d3" stroke-width="1.6" stroke-dasharray="4.4,1.6" fill="none"/>
<text x="516.1" y="834.9" font-size="15.20" fill="#7d7d7d" font-weight="400" text-anchor="end" stroke="#7d7d7d" stroke-width="0.46" stroke-linejoin="round">3.5</text>
<path d="M525.6,889.0H936.7" stroke="#cfd1d3" stroke-width="1.6" stroke-dasharray="4.4,1.6" fill="none"/>
<text x="516.1" y="893.7" font-size="15.20" fill="#7d7d7d" font-weight="400" text-anchor="end" stroke="#7d7d7d" stroke-width="0.46" stroke-linejoin="round">2.5</text>
<path d="M525.6,947.2H936.7" stroke="#cfd1d3" stroke-width="1.6" stroke-dasharray="4.4,1.6" fill="none"/>
<text x="516.1" y="951.9" font-size="15.20" fill="#7d7d7d" font-weight="400" text-anchor="end" stroke="#7d7d7d" stroke-width="0.46" stroke-linejoin="round">1.5</text>
<text x="516.1" y="1010.4" font-size="15.20" fill="#7d7d7d" font-weight="400" text-anchor="end" stroke="#7d7d7d" stroke-width="0.46" stroke-linejoin="round">0.5</text>
<circle cx="544.2" cy="1006.0" r="3.8" fill="#c4c4c4"/>
<text x="543.9" y="1030.7" font-size="15.40" fill="#858585" font-weight="400" text-anchor="middle" letter-spacing="0.4" stroke="#858585" stroke-width="0.46" stroke-linejoin="round">2012</text>
<circle cx="581.5" cy="1006.0" r="3.8" fill="#c4c4c4"/>
<text x="581.2" y="1030.7" font-size="15.40" fill="#858585" font-weight="400" text-anchor="middle" letter-spacing="0.4" stroke="#858585" stroke-width="0.46" stroke-linejoin="round">13</text>
<circle cx="617.9" cy="1006.0" r="3.8" fill="#c4c4c4"/>
<text x="617.6" y="1030.7" font-size="15.40" fill="#858585" font-weight="400" text-anchor="middle" letter-spacing="0.4" stroke="#858585" stroke-width="0.46" stroke-linejoin="round">14</text>
<circle cx="655.5" cy="1006.0" r="3.8" fill="#c4c4c4"/>
<text x="655.2" y="1030.7" font-size="15.40" fill="#858585" font-weight="400" text-anchor="middle" letter-spacing="0.4" stroke="#858585" stroke-width="0.46" stroke-linejoin="round">15</text>
<circle cx="693.1" cy="1006.0" r="3.8" fill="#c4c4c4"/>
<text x="692.8" y="1030.7" font-size="15.40" fill="#858585" font-weight="400" text-anchor="middle" letter-spacing="0.4" stroke="#858585" stroke-width="0.46" stroke-linejoin="round">16</text>
<circle cx="730.1" cy="1006.0" r="3.8" fill="#c4c4c4"/>
<text x="729.8" y="1030.7" font-size="15.40" fill="#858585" font-weight="400" text-anchor="middle" letter-spacing="0.4" stroke="#858585" stroke-width="0.46" stroke-linejoin="round">17</text>
<circle cx="768.4" cy="1006.0" r="3.8" fill="#c4c4c4"/>
<text x="768.1" y="1030.7" font-size="15.40" fill="#858585" font-weight="400" text-anchor="middle" letter-spacing="0.4" stroke="#858585" stroke-width="0.46" stroke-linejoin="round">18</text>
<circle cx="805.4" cy="1006.0" r="3.8" fill="#c4c4c4"/>
<text x="805.1" y="1030.7" font-size="15.40" fill="#858585" font-weight="400" text-anchor="middle" letter-spacing="0.4" stroke="#858585" stroke-width="0.46" stroke-linejoin="round">19</text>
<circle cx="842.1" cy="1006.0" r="3.8" fill="#c4c4c4"/>
<text x="841.8" y="1030.7" font-size="15.40" fill="#858585" font-weight="400" text-anchor="middle" letter-spacing="0.4" stroke="#858585" stroke-width="0.46" stroke-linejoin="round">20</text>
<circle cx="880.0" cy="1006.0" r="3.8" fill="#c4c4c4"/>
<text x="879.7" y="1030.7" font-size="15.40" fill="#858585" font-weight="400" text-anchor="middle" letter-spacing="0.4" stroke="#858585" stroke-width="0.46" stroke-linejoin="round">21</text>
<circle cx="917.3" cy="1006.0" r="3.8" fill="#c4c4c4"/>
<text x="917.0" y="1030.7" font-size="15.40" fill="#858585" font-weight="400" text-anchor="middle" letter-spacing="0.4" stroke="#858585" stroke-width="0.46" stroke-linejoin="round">22</text>
<path d="M543.0,963.9C549.4,964.2 569.0,965.7 581.5,966.0C594.0,966.2 605.6,965.6 617.9,965.4C630.2,965.1 643.0,965.0 655.5,964.5C668.1,964.0 680.7,962.7 693.1,962.4C705.6,962.0 717.6,962.3 730.1,962.4C742.7,962.5 755.8,963.0 768.4,963.0C780.9,963.0 793.1,963.2 805.4,962.4C817.7,961.5 829.7,958.9 842.1,957.9C854.5,956.9 867.5,958.7 880.0,956.4C892.5,954.2 911.1,946.5 917.3,944.5" fill="none" stroke="#8e88ac" stroke-width="2.9" stroke-linecap="round" stroke-linejoin="round"/>
<path d="M543.0,923.0C549.4,923.5 569.0,927.1 581.5,926.0C594.0,924.8 605.6,917.4 617.9,916.1C630.2,914.9 643.0,919.0 655.5,918.5C668.1,918.0 680.7,914.1 693.1,913.1C705.6,912.1 717.6,911.6 730.1,912.5C742.7,913.4 755.8,919.7 768.4,918.5C780.9,917.4 793.1,910.8 805.4,905.7C817.7,900.5 829.7,891.0 842.1,887.8C854.5,884.5 867.5,889.0 880.0,886.3C892.5,883.5 911.1,873.8 917.3,871.3" fill="none" stroke="#7c9fc2" stroke-width="2.9" stroke-linecap="round" stroke-linejoin="round"/>
<path d="M543.0,975.8C549.4,976.5 569.0,978.9 581.5,979.7C594.0,980.5 605.6,980.8 617.9,980.9C630.2,981.0 643.0,980.4 655.5,980.3C668.1,980.2 680.7,980.3 693.1,980.3C705.6,980.3 717.6,980.7 730.1,980.3C742.7,979.9 755.8,978.7 768.4,977.9C780.9,977.2 793.1,977.2 805.4,975.8C817.7,974.5 829.7,972.2 842.1,969.9C854.5,967.5 867.5,966.5 880.0,961.5C892.5,956.5 911.1,943.6 917.3,940.0" fill="none" stroke="#a29c66" stroke-width="2.9" stroke-linecap="round" stroke-linejoin="round"/>
<path d="M543.0,944.5C549.4,945.0 569.0,947.3 581.5,947.5C594.0,947.6 605.6,946.1 617.9,945.4C630.2,944.6 643.0,943.5 655.5,943.0C668.1,942.4 680.7,943.6 693.1,942.1C705.6,940.6 717.6,936.1 730.1,934.0C742.7,931.9 755.8,930.0 768.4,929.6C780.9,929.1 793.1,930.8 805.4,931.0C817.7,931.3 829.7,930.5 842.1,931.0C854.5,931.5 867.5,936.3 880.0,934.0C892.5,931.8 911.1,920.3 917.3,917.6" fill="none" stroke="#7c9a9e" stroke-width="2.9" stroke-linecap="round" stroke-linejoin="round"/>
<path d="M543.0,946.0C549.4,945.4 569.0,944.4 581.5,942.4C594.0,940.4 605.6,935.1 617.9,934.0C630.2,933.0 643.0,935.9 655.5,936.1C668.1,936.4 680.7,935.4 693.1,935.5C705.6,935.7 717.6,936.8 730.1,937.0C742.7,937.3 755.8,936.2 768.4,937.0C780.9,937.9 793.1,941.7 805.4,942.1C817.7,942.4 829.7,939.0 842.1,939.1C854.5,939.3 867.5,949.8 880.0,943.0C892.5,936.2 911.1,905.7 917.3,898.2" fill="none" stroke="#7bab82" stroke-width="2.9" stroke-linecap="round" stroke-linejoin="round"/>
<path d="M543.0,956.4C549.4,956.2 569.0,953.9 581.5,954.9C594.0,955.9 605.6,961.0 617.9,962.4C630.2,963.8 643.0,963.8 655.5,963.3C668.1,962.8 680.7,959.8 693.1,959.4C705.6,959.0 717.6,961.0 730.1,960.9C742.7,960.8 755.8,958.6 768.4,958.8C780.9,959.1 793.1,962.4 805.4,962.4C817.7,962.3 829.7,959.3 842.1,958.5C854.5,957.8 867.5,957.6 880.0,957.9C892.5,958.2 911.1,959.9 917.3,960.3" fill="none" stroke="#acacac" stroke-width="2.9" stroke-linecap="round" stroke-linejoin="round"/>
<path d="M543.0,962.4C549.4,963.6 569.0,968.6 581.5,969.9C594.0,971.1 605.6,970.2 617.9,969.9C630.2,969.5 643.0,968.5 655.5,967.5C668.1,966.5 680.7,964.3 693.1,963.9C705.6,963.4 717.6,964.8 730.1,964.8C742.7,964.8 755.8,963.9 768.4,963.9C780.9,963.9 793.1,964.5 805.4,964.8C817.7,965.0 829.7,965.3 842.1,965.4C854.5,965.5 867.5,965.2 880.0,965.4C892.5,965.5 911.1,966.1 917.3,966.3" fill="none" stroke="#c98f79" stroke-width="2.9" stroke-linecap="round" stroke-linejoin="round"/>
<path d="M849.3,848.5L872.8,848.5L872.8,883.3" fill="none" stroke="#8e8e8e" stroke-width="1.1"/>
<rect x="784.0" y="837.4" width="65.8" height="22.5" rx="11.2" fill="#7c9fc2"/>
<text x="816.9" y="854.0" font-size="15.00" fill="#ffffff" font-weight="500" text-anchor="middle" letter-spacing="0.6">台北市</text>
<circle cx="917.3" cy="870.4" r="4.7" fill="#7c9fc2" stroke="#f0f0eb" stroke-width="1.8"/>
<text x="927.8" y="860.0" font-size="15.00" fill="#5f8db8" font-weight="400" text-anchor="end" stroke="#5f8db8" stroke-width="0.45" stroke-linejoin="round">2.8</text>
<path d="M876.1,914.5L899.4,914.5" fill="none" stroke="#8e8e8e" stroke-width="1.1"/>
<rect x="811.4" y="903.1" width="65.2" height="22.5" rx="11.2" fill="#7bab82"/>
<text x="844.0" y="919.8" font-size="15.00" fill="#ffffff" font-weight="500" text-anchor="middle" letter-spacing="0.6">台中市</text>
<circle cx="917.3" cy="897.3" r="4.7" fill="#7bab82" stroke="#f0f0eb" stroke-width="1.8"/>
<text x="927.8" y="889.3" font-size="15.00" fill="#7bab82" font-weight="400" text-anchor="end" stroke="#7bab82" stroke-width="0.45" stroke-linejoin="round">2.4</text>
<rect x="1009.2" y="830.4" width="410.5" height="175.4" fill="#f0f0eb"/>
<path d="M1009.2,830.4V1005.8H1419.7" fill="none" stroke="#d8d9da" stroke-width="1"/>
<path d="M1009.2,830.2H1419.7" stroke="#cfd1d3" stroke-width="1.6" stroke-dasharray="4.4,1.6" fill="none"/>
<text x="999.7" y="834.9" font-size="15.20" fill="#7d7d7d" font-weight="400" text-anchor="end" stroke="#7d7d7d" stroke-width="0.46" stroke-linejoin="round">4</text>
<path d="M1009.2,889.0H1419.7" stroke="#cfd1d3" stroke-width="1.6" stroke-dasharray="4.4,1.6" fill="none"/>
<text x="999.7" y="893.7" font-size="15.20" fill="#7d7d7d" font-weight="400" text-anchor="end" stroke="#7d7d7d" stroke-width="0.46" stroke-linejoin="round">3</text>
<path d="M1009.2,947.2H1419.7" stroke="#cfd1d3" stroke-width="1.6" stroke-dasharray="4.4,1.6" fill="none"/>
<text x="999.7" y="951.9" font-size="15.20" fill="#7d7d7d" font-weight="400" text-anchor="end" stroke="#7d7d7d" stroke-width="0.46" stroke-linejoin="round">2</text>
<text x="999.7" y="1010.4" font-size="15.20" fill="#7d7d7d" font-weight="400" text-anchor="end" stroke="#7d7d7d" stroke-width="0.46" stroke-linejoin="round">1</text>
<circle cx="1027.2" cy="1006.0" r="3.8" fill="#c4c4c4"/>
<text x="1026.9" y="1030.7" font-size="15.40" fill="#858585" font-weight="400" text-anchor="middle" letter-spacing="0.4" stroke="#858585" stroke-width="0.46" stroke-linejoin="round">2012</text>
<circle cx="1063.6" cy="1006.0" r="3.8" fill="#c4c4c4"/>
<text x="1063.3" y="1030.7" font-size="15.40" fill="#858585" font-weight="400" text-anchor="middle" letter-spacing="0.4" stroke="#858585" stroke-width="0.46" stroke-linejoin="round">13</text>
<circle cx="1101.2" cy="1006.0" r="3.8" fill="#c4c4c4"/>
<text x="1100.9" y="1030.7" font-size="15.40" fill="#858585" font-weight="400" text-anchor="middle" letter-spacing="0.4" stroke="#858585" stroke-width="0.46" stroke-linejoin="round">14</text>
<circle cx="1138.5" cy="1006.0" r="3.8" fill="#c4c4c4"/>
<text x="1138.2" y="1030.7" font-size="15.40" fill="#858585" font-weight="400" text-anchor="middle" letter-spacing="0.4" stroke="#858585" stroke-width="0.46" stroke-linejoin="round">15</text>
<circle cx="1175.8" cy="1006.0" r="3.8" fill="#c4c4c4"/>
<text x="1175.5" y="1030.7" font-size="15.40" fill="#858585" font-weight="400" text-anchor="middle" letter-spacing="0.4" stroke="#858585" stroke-width="0.46" stroke-linejoin="round">16</text>
<circle cx="1212.8" cy="1006.0" r="3.8" fill="#c4c4c4"/>
<text x="1212.5" y="1030.7" font-size="15.40" fill="#858585" font-weight="400" text-anchor="middle" letter-spacing="0.4" stroke="#858585" stroke-width="0.46" stroke-linejoin="round">17</text>
<circle cx="1251.9" cy="1006.0" r="3.8" fill="#c4c4c4"/>
<text x="1251.6" y="1030.7" font-size="15.40" fill="#858585" font-weight="400" text-anchor="middle" letter-spacing="0.4" stroke="#858585" stroke-width="0.46" stroke-linejoin="round">18</text>
<circle cx="1287.8" cy="1006.0" r="3.8" fill="#c4c4c4"/>
<text x="1287.5" y="1030.7" font-size="15.40" fill="#858585" font-weight="400" text-anchor="middle" letter-spacing="0.4" stroke="#858585" stroke-width="0.46" stroke-linejoin="round">19</text>
<circle cx="1324.8" cy="1006.0" r="3.8" fill="#c4c4c4"/>
<text x="1324.5" y="1030.7" font-size="15.40" fill="#858585" font-weight="400" text-anchor="middle" letter-spacing="0.4" stroke="#858585" stroke-width="0.46" stroke-linejoin="round">20</text>
<circle cx="1363.6" cy="1006.0" r="3.8" fill="#c4c4c4"/>
<text x="1363.3" y="1030.7" font-size="15.40" fill="#858585" font-weight="400" text-anchor="middle" letter-spacing="0.4" stroke="#858585" stroke-width="0.46" stroke-linejoin="round">21</text>
<circle cx="1400.9" cy="1006.0" r="3.8" fill="#c4c4c4"/>
<text x="1400.6" y="1030.7" font-size="15.40" fill="#858585" font-weight="400" text-anchor="middle" letter-spacing="0.4" stroke="#858585" stroke-width="0.46" stroke-linejoin="round">22</text>
<path d="M1026.6,935.5C1032.7,935.2 1051.1,934.3 1063.6,933.4C1076.0,932.5 1088.7,930.1 1101.2,930.1C1113.7,930.1 1126.1,933.4 1138.5,933.4C1150.9,933.4 1163.4,931.0 1175.8,930.1C1188.2,929.3 1200.1,927.9 1212.8,928.1C1225.5,928.2 1239.5,930.9 1251.9,931.0C1264.4,931.1 1275.6,928.2 1287.8,928.7C1299.9,929.2 1312.1,933.2 1324.8,934.0C1337.4,934.8 1350.9,933.9 1363.6,933.4C1376.3,932.9 1394.7,931.4 1400.9,931.0" fill="none" stroke="#8e88ac" stroke-width="2.9" stroke-linecap="round" stroke-linejoin="round"/>
<path d="M1026.6,906.6C1032.7,904.8 1051.1,899.4 1063.6,895.8C1076.0,892.3 1088.7,885.4 1101.2,885.4C1113.7,885.4 1126.1,894.3 1138.5,895.8C1150.9,897.4 1163.4,897.2 1175.8,894.6C1188.2,892.0 1200.1,879.7 1212.8,880.3C1225.5,880.9 1239.5,899.7 1251.9,898.2C1264.4,896.7 1275.6,873.0 1287.8,871.3C1299.9,869.7 1312.1,883.5 1324.8,888.4C1337.4,893.2 1350.9,898.5 1363.6,900.6C1376.3,902.7 1394.7,901.1 1400.9,901.2" fill="none" stroke="#7c9fc2" stroke-width="2.9" stroke-linecap="round" stroke-linejoin="round"/>
<path d="M1026.6,923.6C1032.7,922.1 1051.1,917.0 1063.6,914.6C1076.0,912.2 1088.7,909.4 1101.2,909.3C1113.7,909.1 1126.1,913.1 1138.5,913.7C1150.9,914.4 1163.4,913.6 1175.8,913.1C1188.2,912.7 1200.1,911.0 1212.8,911.0C1225.5,911.0 1239.5,911.8 1251.9,913.1C1264.4,914.5 1275.6,915.7 1287.8,919.1C1299.9,922.5 1312.1,931.8 1324.8,933.4C1337.4,935.0 1350.9,932.0 1363.6,928.7C1376.3,925.3 1394.7,915.7 1400.9,913.1" fill="none" stroke="#a29c66" stroke-width="2.9" stroke-linecap="round" stroke-linejoin="round"/>
<path d="M1026.6,884.2C1032.7,888.3 1051.1,903.8 1063.6,908.7C1076.0,913.5 1088.7,912.1 1101.2,913.1C1113.7,914.1 1126.1,917.4 1138.5,914.6C1150.9,911.9 1163.4,898.6 1175.8,896.7C1188.2,894.8 1200.1,902.8 1212.8,903.3C1225.5,903.8 1239.5,897.5 1251.9,899.7C1264.4,901.9 1275.6,917.2 1287.8,916.7C1299.9,916.2 1312.1,898.1 1324.8,896.7C1337.4,895.4 1350.9,906.7 1363.6,908.7C1376.3,910.6 1394.7,908.7 1400.9,908.7" fill="none" stroke="#7c9a9e" stroke-width="2.9" stroke-linecap="round" stroke-linejoin="round"/>
<path d="M1026.6,931.0C1032.7,928.8 1051.1,920.5 1063.6,917.6C1076.0,914.7 1088.7,913.7 1101.2,913.7C1113.7,913.7 1126.1,915.4 1138.5,917.6C1150.9,919.9 1163.4,928.7 1175.8,927.2C1188.2,925.7 1200.1,912.6 1212.8,908.7C1225.5,904.7 1239.5,905.2 1251.9,903.3C1264.4,901.4 1275.6,897.1 1287.8,897.3C1299.9,897.6 1312.1,903.9 1324.8,904.8C1337.4,905.7 1350.9,902.0 1363.6,902.7C1376.3,903.3 1394.7,907.7 1400.9,908.7" fill="none" stroke="#7bab82" stroke-width="2.9" stroke-linecap="round" stroke-linejoin="round"/>
<path d="M1026.6,971.3C1032.7,970.2 1051.1,965.1 1063.6,964.5C1076.0,963.8 1088.7,966.5 1101.2,967.5C1113.7,968.5 1126.1,970.8 1138.5,970.4C1150.9,970.1 1163.4,966.6 1175.8,965.4C1188.2,964.1 1200.1,962.1 1212.8,963.0C1225.5,963.8 1239.5,968.5 1251.9,970.4C1264.4,972.4 1275.6,975.3 1287.8,974.9C1299.9,974.6 1312.1,968.9 1324.8,968.4C1337.4,967.9 1350.9,973.0 1363.6,971.9C1376.3,970.8 1394.7,963.5 1400.9,961.8" fill="none" stroke="#acacac" stroke-width="2.9" stroke-linecap="round" stroke-linejoin="round"/>
<path d="M1026.6,952.8C1032.7,954.3 1051.1,960.5 1063.6,961.5C1076.0,962.5 1088.7,959.8 1101.2,958.8C1113.7,957.8 1126.1,956.5 1138.5,955.5C1150.9,954.5 1163.4,953.4 1175.8,952.8C1188.2,952.2 1200.1,952.3 1212.8,951.9C1225.5,951.5 1239.5,951.3 1251.9,950.4C1264.4,949.6 1275.6,945.9 1287.8,946.6C1299.9,947.2 1312.1,953.2 1324.8,954.3C1337.4,955.5 1350.9,954.7 1363.6,953.4C1376.3,952.1 1394.7,947.7 1400.9,946.6" fill="none" stroke="#c98f79" stroke-width="2.9" stroke-linecap="round" stroke-linejoin="round"/>
<path d="M1326.3,849.5L1348.7,849.5L1348.7,892.8" fill="none" stroke="#8e8e8e" stroke-width="1.1"/>
<rect x="1261.6" y="838.6" width="65.2" height="21.3" rx="10.6" fill="#7c9fc2"/>
<text x="1294.2" y="854.6" font-size="15.00" fill="#ffffff" font-weight="500" text-anchor="middle" letter-spacing="0.6">台北市</text>
<circle cx="1401.2" cy="901.2" r="4.7" fill="#7c9fc2" stroke="#f0f0eb" stroke-width="1.8"/>
<text x="1412.2" y="891.3" font-size="15.00" fill="#5f8db8" font-weight="400" text-anchor="end" stroke="#5f8db8" stroke-width="0.45" stroke-linejoin="round">2.8</text>
<rect x="1485.6" y="830.4" width="412.0" height="175.4" fill="#f0f0eb"/>
<path d="M1485.6,830.4V1005.8H1897.6" fill="none" stroke="#d8d9da" stroke-width="1"/>
<path d="M1485.6,831.0H1897.6" stroke="#cfd1d3" stroke-width="1.6" stroke-dasharray="4.4,1.6" fill="none"/>
<text x="1476.1" y="835.7" font-size="15.20" fill="#7d7d7d" font-weight="400" text-anchor="end" stroke="#7d7d7d" stroke-width="0.46" stroke-linejoin="round">4</text>
<path d="M1485.6,889.2H1897.6" stroke="#cfd1d3" stroke-width="1.6" stroke-dasharray="4.4,1.6" fill="none"/>
<text x="1476.1" y="893.9" font-size="15.20" fill="#7d7d7d" font-weight="400" text-anchor="end" stroke="#7d7d7d" stroke-width="0.46" stroke-linejoin="round">3</text>
<path d="M1485.6,947.2H1897.6" stroke="#cfd1d3" stroke-width="1.6" stroke-dasharray="4.4,1.6" fill="none"/>
<text x="1476.1" y="951.9" font-size="15.20" fill="#7d7d7d" font-weight="400" text-anchor="end" stroke="#7d7d7d" stroke-width="0.46" stroke-linejoin="round">2</text>
<text x="1476.1" y="1010.7" font-size="15.20" fill="#7d7d7d" font-weight="400" text-anchor="end" stroke="#7d7d7d" stroke-width="0.46" stroke-linejoin="round">1</text>
<circle cx="1504.3" cy="1006.0" r="3.8" fill="#c4c4c4"/>
<text x="1504.0" y="1030.7" font-size="15.40" fill="#858585" font-weight="400" text-anchor="middle" letter-spacing="0.4" stroke="#858585" stroke-width="0.46" stroke-linejoin="round">2012</text>
<circle cx="1541.2" cy="1006.0" r="3.8" fill="#c4c4c4"/>
<text x="1540.9" y="1030.7" font-size="15.40" fill="#858585" font-weight="400" text-anchor="middle" letter-spacing="0.4" stroke="#858585" stroke-width="0.46" stroke-linejoin="round">13</text>
<circle cx="1578.4" cy="1006.0" r="3.8" fill="#c4c4c4"/>
<text x="1578.1" y="1030.7" font-size="15.40" fill="#858585" font-weight="400" text-anchor="middle" letter-spacing="0.4" stroke="#858585" stroke-width="0.46" stroke-linejoin="round">14</text>
<circle cx="1615.8" cy="1006.0" r="3.8" fill="#c4c4c4"/>
<text x="1615.5" y="1030.7" font-size="15.40" fill="#858585" font-weight="400" text-anchor="middle" letter-spacing="0.4" stroke="#858585" stroke-width="0.46" stroke-linejoin="round">15</text>
<circle cx="1653.6" cy="1006.0" r="3.8" fill="#c4c4c4"/>
<text x="1653.3" y="1030.7" font-size="15.40" fill="#858585" font-weight="400" text-anchor="middle" letter-spacing="0.4" stroke="#858585" stroke-width="0.46" stroke-linejoin="round">16</text>
<circle cx="1690.2" cy="1006.0" r="3.8" fill="#c4c4c4"/>
<text x="1689.9" y="1030.7" font-size="15.40" fill="#858585" font-weight="400" text-anchor="middle" letter-spacing="0.4" stroke="#858585" stroke-width="0.46" stroke-linejoin="round">17</text>
<circle cx="1729.5" cy="1006.0" r="3.8" fill="#c4c4c4"/>
<text x="1729.2" y="1030.7" font-size="15.40" fill="#858585" font-weight="400" text-anchor="middle" letter-spacing="0.4" stroke="#858585" stroke-width="0.46" stroke-linejoin="round">18</text>
<circle cx="1765.1" cy="1006.0" r="3.8" fill="#c4c4c4"/>
<text x="1764.8" y="1030.7" font-size="15.40" fill="#858585" font-weight="400" text-anchor="middle" letter-spacing="0.4" stroke="#858585" stroke-width="0.46" stroke-linejoin="round">19</text>
<circle cx="1802.3" cy="1006.0" r="3.8" fill="#c4c4c4"/>
<text x="1802.0" y="1030.7" font-size="15.40" fill="#858585" font-weight="400" text-anchor="middle" letter-spacing="0.4" stroke="#858585" stroke-width="0.46" stroke-linejoin="round">20</text>
<circle cx="1840.0" cy="1006.0" r="3.8" fill="#c4c4c4"/>
<text x="1839.7" y="1030.7" font-size="15.40" fill="#858585" font-weight="400" text-anchor="middle" letter-spacing="0.4" stroke="#858585" stroke-width="0.46" stroke-linejoin="round">21</text>
<circle cx="1877.5" cy="1006.0" r="3.8" fill="#c4c4c4"/>
<text x="1877.2" y="1030.7" font-size="15.40" fill="#858585" font-weight="400" text-anchor="middle" letter-spacing="0.4" stroke="#858585" stroke-width="0.46" stroke-linejoin="round">22</text>
<path d="M1503.0,959.3C1509.4,958.7 1528.6,955.6 1541.2,956.2C1553.8,956.7 1565.9,961.1 1578.4,962.3C1590.8,963.6 1603.3,963.6 1615.8,963.6C1628.4,963.6 1641.2,963.1 1653.6,962.3C1666.0,961.6 1677.5,959.8 1690.2,959.3C1702.8,958.7 1717.0,960.2 1729.5,959.3C1742.0,958.3 1753.0,955.7 1765.1,953.7C1777.2,951.6 1789.8,950.1 1802.3,946.9C1814.7,943.7 1827.5,938.8 1840.0,934.5C1852.6,930.2 1871.3,923.4 1877.5,921.2" fill="none" stroke="#8e88ac" stroke-width="2.9" stroke-linecap="round" stroke-linejoin="round"/>
<path d="M1503.0,973.8C1509.4,973.9 1528.6,974.6 1541.2,974.4C1553.8,974.3 1565.9,974.5 1578.4,972.9C1590.8,971.2 1603.3,969.8 1615.8,964.5C1628.4,959.3 1641.2,946.0 1653.6,941.3C1666.0,936.5 1677.5,937.7 1690.2,936.0C1702.8,934.3 1717.0,935.5 1729.5,931.1C1742.0,926.7 1753.0,912.5 1765.1,909.7C1777.2,906.9 1789.8,914.5 1802.3,914.0C1814.7,913.6 1827.5,910.5 1840.0,907.2C1852.6,903.9 1871.3,896.4 1877.5,894.2" fill="none" stroke="#7c9fc2" stroke-width="2.9" stroke-linecap="round" stroke-linejoin="round"/>
<path d="M1503.0,980.6C1509.4,980.5 1528.6,980.4 1541.2,980.0C1553.8,979.6 1565.9,979.0 1578.4,978.5C1590.8,977.9 1603.3,978.2 1615.8,976.9C1628.4,975.6 1641.2,971.9 1653.6,970.7C1666.0,969.5 1677.5,970.1 1690.2,969.8C1702.8,969.4 1717.0,968.9 1729.5,968.5C1742.0,968.2 1753.0,968.8 1765.1,967.6C1777.2,966.4 1789.8,964.9 1802.3,961.4C1814.7,958.0 1827.5,953.6 1840.0,946.9C1852.6,940.2 1871.3,925.4 1877.5,921.2" fill="none" stroke="#a29c66" stroke-width="2.9" stroke-linecap="round" stroke-linejoin="round"/>
<path d="M1503.0,984.6C1509.4,985.8 1528.6,992.5 1541.2,991.5C1553.8,990.4 1565.9,981.8 1578.4,978.5C1590.8,975.1 1603.3,973.9 1615.8,971.6C1628.4,969.4 1641.2,966.2 1653.6,965.1C1666.0,964.1 1677.5,964.0 1690.2,965.4C1702.8,966.9 1717.0,973.7 1729.5,973.8C1742.0,973.9 1753.0,968.0 1765.1,966.1C1777.2,964.2 1789.8,963.9 1802.3,962.3C1814.7,960.8 1827.5,961.2 1840.0,956.8C1852.6,952.3 1871.3,939.2 1877.5,935.7" fill="none" stroke="#7c9a9e" stroke-width="2.9" stroke-linecap="round" stroke-linejoin="round"/>
<path d="M1503.0,940.4C1509.4,939.0 1528.6,930.7 1541.2,932.0C1553.8,933.3 1565.9,949.4 1578.4,948.1C1590.8,946.8 1603.3,925.4 1615.8,924.3C1628.4,923.1 1641.2,940.4 1653.6,941.3C1666.0,942.2 1677.5,932.1 1690.2,929.5C1702.8,926.9 1717.0,926.4 1729.5,925.8C1742.0,925.2 1753.0,927.6 1765.1,925.8C1777.2,924.0 1789.8,923.5 1802.3,915.0C1814.7,906.5 1827.5,879.9 1840.0,874.7C1852.6,869.5 1871.3,882.5 1877.5,884.0" fill="none" stroke="#7bab82" stroke-width="2.9" stroke-linecap="round" stroke-linejoin="round"/>
<path d="M1503.0,884.3C1509.4,884.4 1528.6,885.8 1541.2,884.6C1553.8,883.4 1565.9,870.8 1578.4,877.2C1590.8,883.5 1603.3,911.8 1615.8,922.7C1628.4,933.7 1641.2,939.8 1653.6,942.8C1666.0,945.8 1677.5,942.4 1690.2,940.7C1702.8,939.0 1717.0,935.1 1729.5,932.6C1742.0,930.1 1753.0,929.8 1765.1,925.8C1777.2,921.8 1789.8,914.2 1802.3,908.8C1814.7,903.4 1827.5,902.1 1840.0,893.3C1852.6,884.5 1871.3,862.3 1877.5,856.1" fill="none" stroke="#acacac" stroke-width="2.9" stroke-linecap="round" stroke-linejoin="round"/>
<path d="M1503.0,904.7C1509.4,903.3 1528.6,883.7 1541.2,895.8C1553.8,907.8 1565.9,962.1 1578.4,976.9C1590.8,991.7 1603.3,983.9 1615.8,984.6C1628.4,985.4 1641.2,983.1 1653.6,981.5C1666.0,980.0 1677.5,977.2 1690.2,975.4C1702.8,973.5 1717.0,971.5 1729.5,970.7C1742.0,969.9 1753.0,972.0 1765.1,970.7C1777.2,969.4 1789.8,965.4 1802.3,963.0C1814.7,960.5 1827.5,959.0 1840.0,955.8C1852.6,952.6 1871.3,945.8 1877.5,943.8" fill="none" stroke="#c98f79" stroke-width="2.9" stroke-linecap="round" stroke-linejoin="round"/>
<path d="M1842.5,856.0L1872.0,856.0" fill="none" stroke="#8e8e8e" stroke-width="1.1"/>
<rect x="1777.9" y="844.8" width="65.1" height="22.7" rx="11.4" fill="#acacac"/>
<text x="1810.5" y="861.5" font-size="15.00" fill="#ffffff" font-weight="500" text-anchor="middle" letter-spacing="0.6">台南市</text>
<circle cx="1877.5" cy="855.5" r="4.7" fill="#acacac" stroke="#f0f0eb" stroke-width="1.8"/>
<text x="1887.4" y="845.3" font-size="15.00" fill="#9a9a9a" font-weight="400" text-anchor="end" stroke="#9a9a9a" stroke-width="0.45" stroke-linejoin="round">3.6</text>
<path d="M1710.9,886.0L1728.9,886.0L1728.9,921.2" fill="none" stroke="#8e8e8e" stroke-width="1.1"/>
<rect x="1646.9" y="874.8" width="64.5" height="22.1" rx="11.1" fill="#7bab82"/>
<text x="1679.2" y="891.2" font-size="15.00" fill="#ffffff" font-weight="500" text-anchor="middle" letter-spacing="0.6">台中市</text>
<circle cx="1877.5" cy="884.0" r="4.7" fill="#7bab82" stroke="#f0f0eb" stroke-width="1.8"/>
<text x="1887.4" y="876.3" font-size="15.00" fill="#7bab82" font-weight="400" text-anchor="end" stroke="#7bab82" stroke-width="0.45" stroke-linejoin="round">3.1</text>
<circle cx="1470.5" cy="1054" r="8.4" fill="#7c9fc2"/>
<text x="1482.6" y="1059.3" font-size="15.00" fill="#6e6e6e" font-weight="400" text-anchor="start" letter-spacing="0.6">台北</text>
<circle cx="1528.7" cy="1054" r="8.4" fill="#a29c66"/>
<text x="1540.8" y="1059.3" font-size="15.00" fill="#6e6e6e" font-weight="400" text-anchor="start" letter-spacing="0.6">新北</text>
<circle cx="1586.0" cy="1054" r="8.4" fill="#7c9a9e"/>
<text x="1598.1" y="1059.3" font-size="15.00" fill="#6e6e6e" font-weight="400" text-anchor="start" letter-spacing="0.6">桃園</text>
<circle cx="1643.3" cy="1054" r="8.4" fill="#7bab82"/>
<text x="1655.4" y="1059.3" font-size="15.00" fill="#6e6e6e" font-weight="400" text-anchor="start" letter-spacing="0.6">台中</text>
<circle cx="1701.2" cy="1054" r="8.4" fill="#acacac"/>
<text x="1713.3" y="1059.3" font-size="15.00" fill="#6e6e6e" font-weight="400" text-anchor="start" letter-spacing="0.6">台南</text>
<circle cx="1758.8" cy="1054" r="8.4" fill="#c98f79"/>
<text x="1770.9" y="1059.3" font-size="15.00" fill="#6e6e6e" font-weight="400" text-anchor="start" letter-spacing="0.6">高雄</text>
<circle cx="1816.1" cy="1054" r="8.4" fill="#8e88ac"/>
<text x="1828.2" y="1059.3" font-size="15.00" fill="#6e6e6e" font-weight="400" text-anchor="start" letter-spacing="0.6">全台平均</text>
</svg>
</body></html>
